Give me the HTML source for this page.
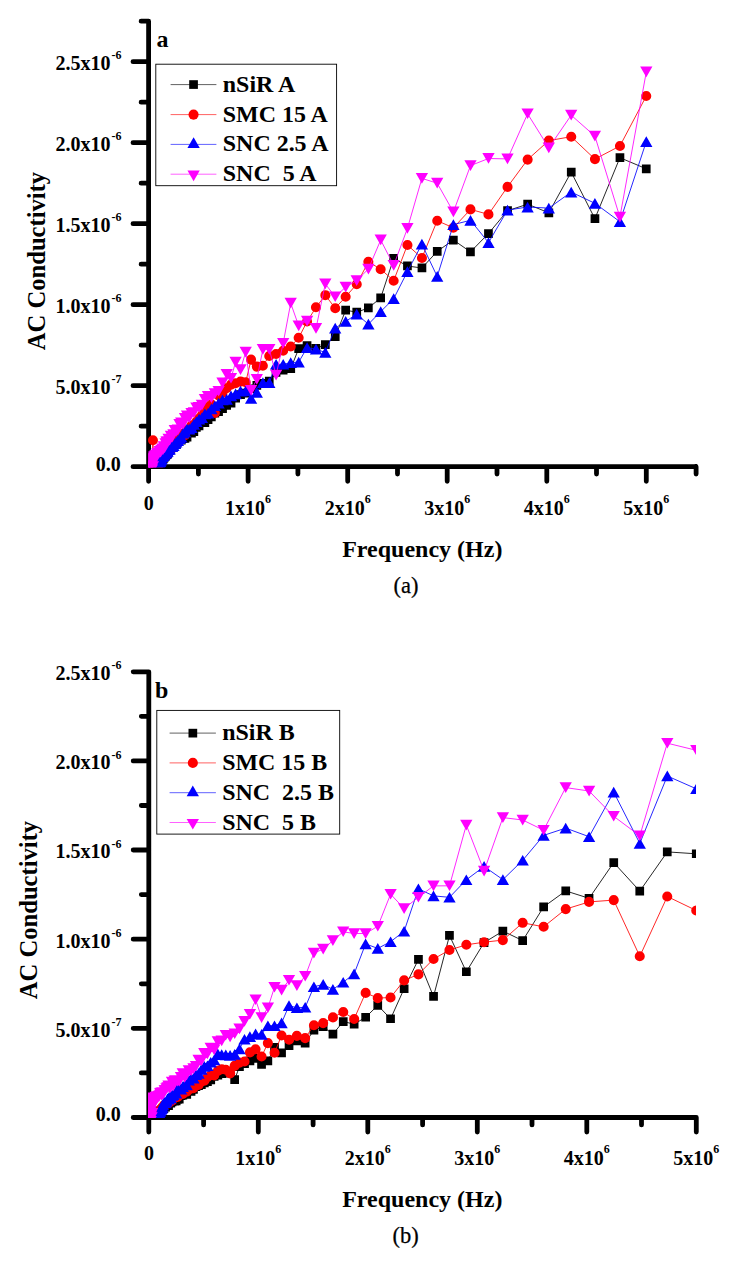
<!DOCTYPE html>
<html><head><meta charset="utf-8"><title>AC Conductivity vs Frequency</title>
<style>
html,body{margin:0;padding:0;background:#fff;}
svg{display:block;}
text{font-family:"Liberation Serif",serif;fill:#000;}
.tk{font-size:20px;font-weight:bold;}
.sp{font-size:12px;font-weight:bold;}
.ti{font-size:24px;font-weight:bold;}
.lg{font-size:23.95px;font-weight:bold;}
.cap{font-size:22.5px;stroke:#000;stroke-width:0.25px;}
.ty{font-size:24.6px;font-weight:bold;}
</style></head><body>
<svg width="738" height="1264" viewBox="0 0 738 1264">
<rect width="738" height="1264" fill="#fff"/>
<defs>
<clipPath id="ca"><rect x="148.1" y="10" width="560" height="457.6"/></clipPath>
<clipPath id="cb"><rect x="148.1" y="660" width="547.9" height="457.9"/></clipPath>
</defs>
<g id="chart-a">
<path d="M148.6 21.5V466.7M148.6 466.7H696M148.6 466.7H133M148.6 426.2H141.1M148.6 385.7H133M148.6 345.2H141.1M148.6 304.7H133M148.6 264.2H141.1M148.6 223.7H133M148.6 183.2H141.1M148.6 142.7H133M148.6 102.2H141.1M148.6 61.7H133M148.6 21.2H141.1M148.6 466.7V481.3M198.4 466.7V474.1M248.1 466.7V481.3M297.9 466.7V474.1M347.7 466.7V481.3M397.5 466.7V474.1M447.2 466.7V481.3M497 466.7V474.1M546.8 466.7V481.3M596.5 466.7V474.1M646.3 466.7V481.3M696.1 466.7V474.1" fill="none" stroke="#000" stroke-width="4.8" stroke-linecap="round" stroke-linejoin="round"/>
<text x="121.6" y="70.1" text-anchor="end" class="tk">2.5x10<tspan class="sp" dx="1.1" dy="-10.8">-6</tspan></text>
<text x="121.6" y="151.1" text-anchor="end" class="tk">2.0x10<tspan class="sp" dx="1.1" dy="-10.8">-6</tspan></text>
<text x="121.6" y="232.1" text-anchor="end" class="tk">1.5x10<tspan class="sp" dx="1.1" dy="-10.8">-6</tspan></text>
<text x="121.6" y="313.1" text-anchor="end" class="tk">1.0x10<tspan class="sp" dx="1.1" dy="-10.8">-6</tspan></text>
<text x="121.6" y="394.1" text-anchor="end" class="tk">5.0x10<tspan class="sp" dx="1.1" dy="-10.8">-7</tspan></text>
<text x="120.7" y="470.5" text-anchor="end" class="tk">0.0</text>
<text x="148.7" y="510" text-anchor="middle" class="tk">0</text>
<text x="248.1" y="514.6" text-anchor="middle" class="tk">1x10<tspan class="sp" dy="-11.4">6</tspan></text>
<text x="347.7" y="514.6" text-anchor="middle" class="tk">2x10<tspan class="sp" dy="-11.4">6</tspan></text>
<text x="447.2" y="514.6" text-anchor="middle" class="tk">3x10<tspan class="sp" dy="-11.4">6</tspan></text>
<text x="546.8" y="514.6" text-anchor="middle" class="tk">4x10<tspan class="sp" dy="-11.4">6</tspan></text>
<text x="646.3" y="514.6" text-anchor="middle" class="tk">5x10<tspan class="sp" dy="-11.4">6</tspan></text>
<text x="422.3" y="557.2" text-anchor="middle" class="ti">Frequency (Hz)</text>
<text transform="translate(44.8 261) rotate(-90)" text-anchor="middle" class="ty">AC Conductivity</text>
<text x="156.6" y="47.4" class="lg">a</text>
<text x="406" y="593" text-anchor="middle" class="cap">(a)</text>
<g clip-path="url(#ca)">
<path d="M646.3 168.8L619.9 157.7L594.9 218.7L571.2 172.1L548.8 212.8L527.6 204.2L507.5 210.7L488.5 233.5L470.5 251.9L453.4 240L437.2 251.4L421.9 268L407.4 266L393.7 258.4L380.7 297.9L368.4 308L356.7 312.2L345.7 310.2L335.2 336.8L325.3 344.6L316 348.5L307.1 345.6L298.7 348.6L290.7 368.8L283.2 370.3L276.1 372.5L269.3 381.2L262.9 383.3L256.8 385.5L251.1 388.8L245.7 393.1L240.5 394.7L235.6 398.2L231 403L226.7 405.4L222.5 408.6L218.6 411.8L214.9 413.2L211.4 416.9L208 419.7L204.9 422.5L201.9 422.8L199.1 425.8L196.4 427.4L193.9 431.7L191.5 433L189.2 432.5L187 437L185 438.4L183.1 438.7L181.2 440.1L179.5 440.3L177.9 441.4L176.3 444.5L174.8 444.4L173.5 446.2L172.1 447.7L170.9 448.3L169.7 450.8L168.6 452L167.5 454.3L166.5 454.7L165.6 456.1L164.7 456.9L163.8 458.2L163 458.8L162.3 459.4L161.5 461.5L160.8 462.3L160.2 462.8L159.6 463.6L159 464.1L158.4 465L157.9 466L157.4 466.7L157 468.4L156.5 468.9L156.1 470.1L155.7 470.5L155.3 471.7L155 472.4L154.6 472.4L154.3 473.2L154 474.3L153.7 474.5L153.4 475.4L153.2 475.6L152.9 475.9L152.7 476.7L152.5 477.3L152.3 477.5L152.1 477.9L151.9 478.4L151.7 479.1L151.6 479.4L151.4 479.5L151.3 479.9L151.1 480.1L151 480.4L150.9 480.9L150.7 481L150.6 481.4L150.5 481.6L150.4 481.8L150.3 482.1L150.2 482.2L150.1 482.5L150.1 482.6L150 482.8L149.9 483L149.8 483.1L149.8 483.4L149.7 483.5L149.7 483.6L149.6 483.8L149.5 483.8L149.5 484L149.4 484.1L149.4 484.2L149.4 484.2L149.3 484.4L149.3 484.4L149.2 484.5L149.2 484.6L149.2 484.7L149.1 484.7L149.1 484.8L149.1 484.9L149.1 484.9L149 485L149 485.1L149 485.1L149 485.1L149 485.2L148.9 485.2L148.9 485.3" fill="none" stroke="#000" stroke-width="0.85"/>
<path d="M641.9 164.5h8.7v8.7h-8.7zM615.6 153.3h8.7v8.7h-8.7zM590.6 214.3h8.7v8.7h-8.7zM566.9 167.8h8.7v8.7h-8.7zM544.5 208.5h8.7v8.7h-8.7zM523.3 199.8h8.7v8.7h-8.7zM503.2 206.3h8.7v8.7h-8.7zM484.1 229.2h8.7v8.7h-8.7zM466.1 247.6h8.7v8.7h-8.7zM449 235.7h8.7v8.7h-8.7zM432.9 247.1h8.7v8.7h-8.7zM417.6 263.6h8.7v8.7h-8.7zM403.1 261.6h8.7v8.7h-8.7zM389.3 254h8.7v8.7h-8.7zM376.3 293.5h8.7v8.7h-8.7zM364 303.6h8.7v8.7h-8.7zM352.4 307.8h8.7v8.7h-8.7zM341.3 305.8h8.7v8.7h-8.7zM330.9 332.4h8.7v8.7h-8.7zM321 340.2h8.7v8.7h-8.7zM311.6 344.1h8.7v8.7h-8.7zM302.7 341.2h8.7v8.7h-8.7zM294.3 344.2h8.7v8.7h-8.7zM286.4 364.4h8.7v8.7h-8.7zM278.8 365.9h8.7v8.7h-8.7zM271.7 368.1h8.7v8.7h-8.7zM264.9 376.8h8.7v8.7h-8.7zM258.5 378.9h8.7v8.7h-8.7zM252.5 381.1h8.7v8.7h-8.7zM246.7 384.4h8.7v8.7h-8.7zM241.3 388.8h8.7v8.7h-8.7zM236.2 390.3h8.7v8.7h-8.7zM231.3 393.9h8.7v8.7h-8.7zM226.7 398.7h8.7v8.7h-8.7zM222.3 401.1h8.7v8.7h-8.7zM218.2 404.3h8.7v8.7h-8.7zM214.2 407.4h8.7v8.7h-8.7zM210.5 408.9h8.7v8.7h-8.7zM207 412.5h8.7v8.7h-8.7zM203.7 415.3h8.7v8.7h-8.7zM200.5 418.2h8.7v8.7h-8.7zM197.6 418.4h8.7v8.7h-8.7zM194.7 421.5h8.7v8.7h-8.7zM192 423h8.7v8.7h-8.7zM189.5 427.4h8.7v8.7h-8.7zM187.1 428.7h8.7v8.7h-8.7zM184.8 428.2h8.7v8.7h-8.7zM182.7 432.7h8.7v8.7h-8.7zM180.6 434h8.7v8.7h-8.7zM178.7 434.4h8.7v8.7h-8.7zM176.9 435.7h8.7v8.7h-8.7zM175.2 435.9h8.7v8.7h-8.7zM173.5 437.1h8.7v8.7h-8.7zM172 440.2h8.7v8.7h-8.7zM170.5 440.1h8.7v8.7h-8.7zM169.1 441.9h8.7v8.7h-8.7zM167.8 443.3h8.7v8.7h-8.7zM166.5 444h8.7v8.7h-8.7zM165.4 446.4h8.7v8.7h-8.7zM164.2 447.7h8.7v8.7h-8.7zM163.2 449.9h8.7v8.7h-8.7zM162.2 450.4h8.7v8.7h-8.7zM161.2 451.8h8.7v8.7h-8.7zM160.3 452.5h8.7v8.7h-8.7zM159.5 453.9h8.7v8.7h-8.7zM158.7 454.5h8.7v8.7h-8.7zM157.9 455.1h8.7v8.7h-8.7zM157.2 457.1h8.7v8.7h-8.7zM156.5 457.9h8.7v8.7h-8.7zM155.8 458.4h8.7v8.7h-8.7zM155.2 459.2h8.7v8.7h-8.7zM154.6 459.7h8.7v8.7h-8.7zM154.1 460.6h8.7v8.7h-8.7zM153.6 461.6h8.7v8.7h-8.7zM153.1 462.3h8.7v8.7h-8.7zM152.6 464h8.7v8.7h-8.7zM152.2 464.5h8.7v8.7h-8.7zM151.7 465.8h8.7v8.7h-8.7zM151.3 466.1h8.7v8.7h-8.7zM151 467.4h8.7v8.7h-8.7zM150.6 468h8.7v8.7h-8.7zM150.3 468h8.7v8.7h-8.7zM150 468.8h8.7v8.7h-8.7zM149.7 469.9h8.7v8.7h-8.7zM149.4 470.2h8.7v8.7h-8.7zM149.1 471.1h8.7v8.7h-8.7zM148.8 471.2h8.7v8.7h-8.7zM148.6 471.5h8.7v8.7h-8.7zM148.4 472.4h8.7v8.7h-8.7zM148.1 472.9h8.7v8.7h-8.7zM147.9 473.2h8.7v8.7h-8.7zM147.7 473.5h8.7v8.7h-8.7zM147.6 474.1h8.7v8.7h-8.7zM147.4 474.7h8.7v8.7h-8.7zM147.2 475h8.7v8.7h-8.7zM147.1 475.1h8.7v8.7h-8.7zM146.9 475.5h8.7v8.7h-8.7zM146.8 475.8h8.7v8.7h-8.7zM146.6 476.1h8.7v8.7h-8.7zM146.5 476.6h8.7v8.7h-8.7zM146.4 476.7h8.7v8.7h-8.7zM146.3 477.1h8.7v8.7h-8.7zM146.2 477.3h8.7v8.7h-8.7zM146.1 477.4h8.7v8.7h-8.7zM146 477.8h8.7v8.7h-8.7zM145.9 477.9h8.7v8.7h-8.7zM145.8 478.2h8.7v8.7h-8.7zM145.7 478.3h8.7v8.7h-8.7zM145.6 478.5h8.7v8.7h-8.7zM145.6 478.6h8.7v8.7h-8.7zM145.5 478.8h8.7v8.7h-8.7zM145.4 479h8.7v8.7h-8.7zM145.4 479.2h8.7v8.7h-8.7zM145.3 479.2h8.7v8.7h-8.7zM145.2 479.4h8.7v8.7h-8.7zM145.2 479.5h8.7v8.7h-8.7zM145.1 479.6h8.7v8.7h-8.7zM145.1 479.8h8.7v8.7h-8.7zM145.1 479.8h8.7v8.7h-8.7zM145 479.9h8.7v8.7h-8.7zM145 480.1h8.7v8.7h-8.7zM144.9 480.1h8.7v8.7h-8.7zM144.9 480.2h8.7v8.7h-8.7zM144.9 480.3h8.7v8.7h-8.7zM144.8 480.3h8.7v8.7h-8.7zM144.8 480.4h8.7v8.7h-8.7zM144.8 480.4h8.7v8.7h-8.7zM144.7 480.5h8.7v8.7h-8.7zM144.7 480.6h8.7v8.7h-8.7zM144.7 480.6h8.7v8.7h-8.7zM144.7 480.7h8.7v8.7h-8.7zM144.6 480.7h8.7v8.7h-8.7zM144.6 480.8h8.7v8.7h-8.7zM144.6 480.9h8.7v8.7h-8.7zM144.6 480.9h8.7v8.7h-8.7zM144.6 480.9h8.7v8.7h-8.7z" fill="#000"/>
<path d="M646.3 96L619.9 146L594.9 159.1L571.2 136.7L548.8 140.6L527.6 159.6L507.5 186.9L488.5 214.4L470.5 209.4L453.4 227.8L437.2 220.7L421.9 258L407.4 245L393.7 280.7L380.7 269.2L368.4 261.8L356.7 284.2L345.7 296.8L335.2 308.2L325.3 295.2L316 307.3L307.1 321.5L298.7 337.8L290.7 346.5L283.2 350.8L276.1 354L269.3 356L262.9 365.7L256.8 366.6L251.1 359.6L245.7 382.3L240.5 381.6L235.6 383.3L231 384.6L226.7 388.1L222.5 392.9L218.6 395.4L214.9 413L211.4 404.3L208 407.1L204.9 412.1L201.9 415.1L199.1 418.5L196.4 421.9L193.9 425.3L191.5 425.6L189.2 429.1L187 430.1L185 435.1L183.1 433.7L181.2 438.5L179.5 437.3L177.9 441.4L176.3 441.5L174.8 443.3L173.5 446.6L172.1 445L170.9 446.7L169.7 451L168.6 450.9L167.5 450.9L166.5 454.6L165.6 455.6L164.7 454.5L163.8 456.5L163 456.9L162.3 458.4L161.5 460.1L160.8 460.2L160.2 462.1L159.6 461.9L159 463.1L158.4 465.1L157.9 465.3L157.4 466.2L157 467.2L156.5 467.9L156.1 468.7L155.7 469.1L155.3 470.6L155 471.5L154.6 472.2L154.3 472.5L154 472.9L153.7 473.4L153.4 474.3L153.2 474.7L152.9 440.3L152.7 475.4L152.5 475.9L152.3 476.5L152.1 477L151.9 477.2L151.7 477.4L151.6 478.1L151.4 478.2L151.3 478.6L151.1 478.7L151 479.1L150.9 479.3L150.7 479.7L150.6 479.7L150.5 480.1L150.4 480.2L150.3 480.5L150.2 480.5L150.1 480.8L150.1 481L150 481.2L149.9 481.2L149.8 481.5L149.8 481.5L149.7 481.7L149.7 481.8L149.6 482L149.5 482.1L149.5 482.2L149.4 482.2L149.4 482.4L149.4 482.4L149.3 482.5L149.3 482.6L149.2 482.7L149.2 482.7L149.2 482.8L149.1 482.9L149.1 482.9L149.1 483L149.1 483L149 483.1L149 483.2L149 483.2L149 483.3L149 483.3L148.9 483.3L148.9 483.3" fill="none" stroke="#f00" stroke-width="0.85"/>
<path d="M641.2 96a5.05 5.05 0 1 0 10.1 0a5.05 5.05 0 1 0 -10.1 0zM614.9 146a5.05 5.05 0 1 0 10.1 0a5.05 5.05 0 1 0 -10.1 0zM589.9 159.1a5.05 5.05 0 1 0 10.1 0a5.05 5.05 0 1 0 -10.1 0zM566.2 136.7a5.05 5.05 0 1 0 10.1 0a5.05 5.05 0 1 0 -10.1 0zM543.8 140.6a5.05 5.05 0 1 0 10.1 0a5.05 5.05 0 1 0 -10.1 0zM522.6 159.6a5.05 5.05 0 1 0 10.1 0a5.05 5.05 0 1 0 -10.1 0zM502.5 186.9a5.05 5.05 0 1 0 10.1 0a5.05 5.05 0 1 0 -10.1 0zM483.4 214.4a5.05 5.05 0 1 0 10.1 0a5.05 5.05 0 1 0 -10.1 0zM465.4 209.4a5.05 5.05 0 1 0 10.1 0a5.05 5.05 0 1 0 -10.1 0zM448.3 227.8a5.05 5.05 0 1 0 10.1 0a5.05 5.05 0 1 0 -10.1 0zM432.2 220.7a5.05 5.05 0 1 0 10.1 0a5.05 5.05 0 1 0 -10.1 0zM416.9 258a5.05 5.05 0 1 0 10.1 0a5.05 5.05 0 1 0 -10.1 0zM402.4 245a5.05 5.05 0 1 0 10.1 0a5.05 5.05 0 1 0 -10.1 0zM388.6 280.7a5.05 5.05 0 1 0 10.1 0a5.05 5.05 0 1 0 -10.1 0zM375.6 269.2a5.05 5.05 0 1 0 10.1 0a5.05 5.05 0 1 0 -10.1 0zM363.3 261.8a5.05 5.05 0 1 0 10.1 0a5.05 5.05 0 1 0 -10.1 0zM351.7 284.2a5.05 5.05 0 1 0 10.1 0a5.05 5.05 0 1 0 -10.1 0zM340.6 296.8a5.05 5.05 0 1 0 10.1 0a5.05 5.05 0 1 0 -10.1 0zM330.2 308.2a5.05 5.05 0 1 0 10.1 0a5.05 5.05 0 1 0 -10.1 0zM320.3 295.2a5.05 5.05 0 1 0 10.1 0a5.05 5.05 0 1 0 -10.1 0zM310.9 307.3a5.05 5.05 0 1 0 10.1 0a5.05 5.05 0 1 0 -10.1 0zM302 321.5a5.05 5.05 0 1 0 10.1 0a5.05 5.05 0 1 0 -10.1 0zM293.6 337.8a5.05 5.05 0 1 0 10.1 0a5.05 5.05 0 1 0 -10.1 0zM285.7 346.5a5.05 5.05 0 1 0 10.1 0a5.05 5.05 0 1 0 -10.1 0zM278.1 350.8a5.05 5.05 0 1 0 10.1 0a5.05 5.05 0 1 0 -10.1 0zM271 354a5.05 5.05 0 1 0 10.1 0a5.05 5.05 0 1 0 -10.1 0zM264.2 356a5.05 5.05 0 1 0 10.1 0a5.05 5.05 0 1 0 -10.1 0zM257.8 365.7a5.05 5.05 0 1 0 10.1 0a5.05 5.05 0 1 0 -10.1 0zM251.8 366.6a5.05 5.05 0 1 0 10.1 0a5.05 5.05 0 1 0 -10.1 0zM246 359.6a5.05 5.05 0 1 0 10.1 0a5.05 5.05 0 1 0 -10.1 0zM240.6 382.3a5.05 5.05 0 1 0 10.1 0a5.05 5.05 0 1 0 -10.1 0zM235.5 381.6a5.05 5.05 0 1 0 10.1 0a5.05 5.05 0 1 0 -10.1 0zM230.6 383.3a5.05 5.05 0 1 0 10.1 0a5.05 5.05 0 1 0 -10.1 0zM226 384.6a5.05 5.05 0 1 0 10.1 0a5.05 5.05 0 1 0 -10.1 0zM221.6 388.1a5.05 5.05 0 1 0 10.1 0a5.05 5.05 0 1 0 -10.1 0zM217.5 392.9a5.05 5.05 0 1 0 10.1 0a5.05 5.05 0 1 0 -10.1 0zM213.5 395.4a5.05 5.05 0 1 0 10.1 0a5.05 5.05 0 1 0 -10.1 0zM209.8 413a5.05 5.05 0 1 0 10.1 0a5.05 5.05 0 1 0 -10.1 0zM206.3 404.3a5.05 5.05 0 1 0 10.1 0a5.05 5.05 0 1 0 -10.1 0zM203 407.1a5.05 5.05 0 1 0 10.1 0a5.05 5.05 0 1 0 -10.1 0zM199.8 412.1a5.05 5.05 0 1 0 10.1 0a5.05 5.05 0 1 0 -10.1 0zM196.9 415.1a5.05 5.05 0 1 0 10.1 0a5.05 5.05 0 1 0 -10.1 0zM194 418.5a5.05 5.05 0 1 0 10.1 0a5.05 5.05 0 1 0 -10.1 0zM191.3 421.9a5.05 5.05 0 1 0 10.1 0a5.05 5.05 0 1 0 -10.1 0zM188.8 425.3a5.05 5.05 0 1 0 10.1 0a5.05 5.05 0 1 0 -10.1 0zM186.4 425.6a5.05 5.05 0 1 0 10.1 0a5.05 5.05 0 1 0 -10.1 0zM184.1 429.1a5.05 5.05 0 1 0 10.1 0a5.05 5.05 0 1 0 -10.1 0zM182 430.1a5.05 5.05 0 1 0 10.1 0a5.05 5.05 0 1 0 -10.1 0zM179.9 435.1a5.05 5.05 0 1 0 10.1 0a5.05 5.05 0 1 0 -10.1 0zM178 433.7a5.05 5.05 0 1 0 10.1 0a5.05 5.05 0 1 0 -10.1 0zM176.2 438.5a5.05 5.05 0 1 0 10.1 0a5.05 5.05 0 1 0 -10.1 0zM174.5 437.3a5.05 5.05 0 1 0 10.1 0a5.05 5.05 0 1 0 -10.1 0zM172.8 441.4a5.05 5.05 0 1 0 10.1 0a5.05 5.05 0 1 0 -10.1 0zM171.3 441.5a5.05 5.05 0 1 0 10.1 0a5.05 5.05 0 1 0 -10.1 0zM169.8 443.3a5.05 5.05 0 1 0 10.1 0a5.05 5.05 0 1 0 -10.1 0zM168.4 446.6a5.05 5.05 0 1 0 10.1 0a5.05 5.05 0 1 0 -10.1 0zM167.1 445a5.05 5.05 0 1 0 10.1 0a5.05 5.05 0 1 0 -10.1 0zM165.8 446.7a5.05 5.05 0 1 0 10.1 0a5.05 5.05 0 1 0 -10.1 0zM164.7 451a5.05 5.05 0 1 0 10.1 0a5.05 5.05 0 1 0 -10.1 0zM163.5 450.9a5.05 5.05 0 1 0 10.1 0a5.05 5.05 0 1 0 -10.1 0zM162.5 450.9a5.05 5.05 0 1 0 10.1 0a5.05 5.05 0 1 0 -10.1 0zM161.5 454.6a5.05 5.05 0 1 0 10.1 0a5.05 5.05 0 1 0 -10.1 0zM160.5 455.6a5.05 5.05 0 1 0 10.1 0a5.05 5.05 0 1 0 -10.1 0zM159.6 454.5a5.05 5.05 0 1 0 10.1 0a5.05 5.05 0 1 0 -10.1 0zM158.8 456.5a5.05 5.05 0 1 0 10.1 0a5.05 5.05 0 1 0 -10.1 0zM158 456.9a5.05 5.05 0 1 0 10.1 0a5.05 5.05 0 1 0 -10.1 0zM157.2 458.4a5.05 5.05 0 1 0 10.1 0a5.05 5.05 0 1 0 -10.1 0zM156.5 460.1a5.05 5.05 0 1 0 10.1 0a5.05 5.05 0 1 0 -10.1 0zM155.8 460.2a5.05 5.05 0 1 0 10.1 0a5.05 5.05 0 1 0 -10.1 0zM155.1 462.1a5.05 5.05 0 1 0 10.1 0a5.05 5.05 0 1 0 -10.1 0zM154.5 461.9a5.05 5.05 0 1 0 10.1 0a5.05 5.05 0 1 0 -10.1 0zM153.9 463.1a5.05 5.05 0 1 0 10.1 0a5.05 5.05 0 1 0 -10.1 0zM153.4 465.1a5.05 5.05 0 1 0 10.1 0a5.05 5.05 0 1 0 -10.1 0zM152.9 465.3a5.05 5.05 0 1 0 10.1 0a5.05 5.05 0 1 0 -10.1 0zM152.4 466.2a5.05 5.05 0 1 0 10.1 0a5.05 5.05 0 1 0 -10.1 0zM151.9 467.2a5.05 5.05 0 1 0 10.1 0a5.05 5.05 0 1 0 -10.1 0zM151.5 467.9a5.05 5.05 0 1 0 10.1 0a5.05 5.05 0 1 0 -10.1 0zM151 468.7a5.05 5.05 0 1 0 10.1 0a5.05 5.05 0 1 0 -10.1 0zM150.6 469.1a5.05 5.05 0 1 0 10.1 0a5.05 5.05 0 1 0 -10.1 0zM150.3 470.6a5.05 5.05 0 1 0 10.1 0a5.05 5.05 0 1 0 -10.1 0zM149.9 471.5a5.05 5.05 0 1 0 10.1 0a5.05 5.05 0 1 0 -10.1 0zM149.6 472.2a5.05 5.05 0 1 0 10.1 0a5.05 5.05 0 1 0 -10.1 0zM149.3 472.5a5.05 5.05 0 1 0 10.1 0a5.05 5.05 0 1 0 -10.1 0zM149 472.9a5.05 5.05 0 1 0 10.1 0a5.05 5.05 0 1 0 -10.1 0zM148.7 473.4a5.05 5.05 0 1 0 10.1 0a5.05 5.05 0 1 0 -10.1 0zM148.4 474.3a5.05 5.05 0 1 0 10.1 0a5.05 5.05 0 1 0 -10.1 0zM148.1 474.7a5.05 5.05 0 1 0 10.1 0a5.05 5.05 0 1 0 -10.1 0zM147.9 440.3a5.05 5.05 0 1 0 10.1 0a5.05 5.05 0 1 0 -10.1 0zM147.7 475.4a5.05 5.05 0 1 0 10.1 0a5.05 5.05 0 1 0 -10.1 0zM147.4 475.9a5.05 5.05 0 1 0 10.1 0a5.05 5.05 0 1 0 -10.1 0zM147.2 476.5a5.05 5.05 0 1 0 10.1 0a5.05 5.05 0 1 0 -10.1 0zM147 477a5.05 5.05 0 1 0 10.1 0a5.05 5.05 0 1 0 -10.1 0zM146.9 477.2a5.05 5.05 0 1 0 10.1 0a5.05 5.05 0 1 0 -10.1 0zM146.7 477.4a5.05 5.05 0 1 0 10.1 0a5.05 5.05 0 1 0 -10.1 0zM146.5 478.1a5.05 5.05 0 1 0 10.1 0a5.05 5.05 0 1 0 -10.1 0zM146.4 478.2a5.05 5.05 0 1 0 10.1 0a5.05 5.05 0 1 0 -10.1 0zM146.2 478.6a5.05 5.05 0 1 0 10.1 0a5.05 5.05 0 1 0 -10.1 0zM146.1 478.7a5.05 5.05 0 1 0 10.1 0a5.05 5.05 0 1 0 -10.1 0zM145.9 479.1a5.05 5.05 0 1 0 10.1 0a5.05 5.05 0 1 0 -10.1 0zM145.8 479.3a5.05 5.05 0 1 0 10.1 0a5.05 5.05 0 1 0 -10.1 0zM145.7 479.7a5.05 5.05 0 1 0 10.1 0a5.05 5.05 0 1 0 -10.1 0zM145.6 479.7a5.05 5.05 0 1 0 10.1 0a5.05 5.05 0 1 0 -10.1 0zM145.5 480.1a5.05 5.05 0 1 0 10.1 0a5.05 5.05 0 1 0 -10.1 0zM145.4 480.2a5.05 5.05 0 1 0 10.1 0a5.05 5.05 0 1 0 -10.1 0zM145.3 480.5a5.05 5.05 0 1 0 10.1 0a5.05 5.05 0 1 0 -10.1 0zM145.2 480.5a5.05 5.05 0 1 0 10.1 0a5.05 5.05 0 1 0 -10.1 0zM145.1 480.8a5.05 5.05 0 1 0 10.1 0a5.05 5.05 0 1 0 -10.1 0zM145 481a5.05 5.05 0 1 0 10.1 0a5.05 5.05 0 1 0 -10.1 0zM144.9 481.2a5.05 5.05 0 1 0 10.1 0a5.05 5.05 0 1 0 -10.1 0zM144.9 481.2a5.05 5.05 0 1 0 10.1 0a5.05 5.05 0 1 0 -10.1 0zM144.8 481.5a5.05 5.05 0 1 0 10.1 0a5.05 5.05 0 1 0 -10.1 0zM144.7 481.5a5.05 5.05 0 1 0 10.1 0a5.05 5.05 0 1 0 -10.1 0zM144.7 481.7a5.05 5.05 0 1 0 10.1 0a5.05 5.05 0 1 0 -10.1 0zM144.6 481.8a5.05 5.05 0 1 0 10.1 0a5.05 5.05 0 1 0 -10.1 0zM144.5 482a5.05 5.05 0 1 0 10.1 0a5.05 5.05 0 1 0 -10.1 0zM144.5 482.1a5.05 5.05 0 1 0 10.1 0a5.05 5.05 0 1 0 -10.1 0zM144.4 482.2a5.05 5.05 0 1 0 10.1 0a5.05 5.05 0 1 0 -10.1 0zM144.4 482.2a5.05 5.05 0 1 0 10.1 0a5.05 5.05 0 1 0 -10.1 0zM144.4 482.4a5.05 5.05 0 1 0 10.1 0a5.05 5.05 0 1 0 -10.1 0zM144.3 482.4a5.05 5.05 0 1 0 10.1 0a5.05 5.05 0 1 0 -10.1 0zM144.3 482.5a5.05 5.05 0 1 0 10.1 0a5.05 5.05 0 1 0 -10.1 0zM144.2 482.6a5.05 5.05 0 1 0 10.1 0a5.05 5.05 0 1 0 -10.1 0zM144.2 482.7a5.05 5.05 0 1 0 10.1 0a5.05 5.05 0 1 0 -10.1 0zM144.2 482.7a5.05 5.05 0 1 0 10.1 0a5.05 5.05 0 1 0 -10.1 0zM144.1 482.8a5.05 5.05 0 1 0 10.1 0a5.05 5.05 0 1 0 -10.1 0zM144.1 482.9a5.05 5.05 0 1 0 10.1 0a5.05 5.05 0 1 0 -10.1 0zM144.1 482.9a5.05 5.05 0 1 0 10.1 0a5.05 5.05 0 1 0 -10.1 0zM144 483a5.05 5.05 0 1 0 10.1 0a5.05 5.05 0 1 0 -10.1 0zM144 483a5.05 5.05 0 1 0 10.1 0a5.05 5.05 0 1 0 -10.1 0zM144 483.1a5.05 5.05 0 1 0 10.1 0a5.05 5.05 0 1 0 -10.1 0zM144 483.2a5.05 5.05 0 1 0 10.1 0a5.05 5.05 0 1 0 -10.1 0zM143.9 483.2a5.05 5.05 0 1 0 10.1 0a5.05 5.05 0 1 0 -10.1 0zM143.9 483.3a5.05 5.05 0 1 0 10.1 0a5.05 5.05 0 1 0 -10.1 0zM143.9 483.3a5.05 5.05 0 1 0 10.1 0a5.05 5.05 0 1 0 -10.1 0zM143.9 483.3a5.05 5.05 0 1 0 10.1 0a5.05 5.05 0 1 0 -10.1 0zM143.9 483.3a5.05 5.05 0 1 0 10.1 0a5.05 5.05 0 1 0 -10.1 0z" fill="#f00"/>
<path d="M646.3 141.5L619.9 221.7L594.9 203.3L571.2 192.1L548.8 208.1L527.6 207L507.5 210.1L488.5 242.6L470.5 220.3L453.4 224.6L437.2 276.5L421.9 244.2L407.4 271.6L393.7 298.7L380.7 311.6L368.4 324.2L356.7 314.2L345.7 321.4L335.2 328.1L325.3 352.5L316 349.2L307.1 347.6L298.7 362.1L290.7 362.7L283.2 364.3L276.1 364.3L269.3 382.7L262.9 382.7L256.8 392.4L251.1 398.5L245.7 390.9L240.5 391.1L235.6 393.8L231 395.9L226.7 399.3L222.5 400L218.6 403.1L214.9 405.8L211.4 408.8L208 413.2L204.9 414L201.9 417.8L199.1 419.2L196.4 421.7L193.9 424.3L191.5 427.7L189.2 429L187 429.1L185 431.8L183.1 433.2L181.2 437.2L179.5 438.8L177.9 440.5L176.3 442.3L174.8 443.6L173.5 445.7L172.1 446.6L170.9 446.3L169.7 449.3L168.6 449.6L167.5 451.4L166.5 452.1L165.6 452.9L164.7 453.8L163.8 454.9L163 455.6L162.3 456.6L161.5 459L160.8 460.1L160.2 461.4L159.6 462L159 462.7L158.4 463.9L157.9 464L157.4 465.5L157 466.2L156.5 466.8L156.1 467.6L155.7 468.7L155.3 469.2L155 470.1L154.6 471.1L154.3 471.8L154 472.4L153.7 473.4L153.4 474L153.2 474.7L152.9 475.3L152.7 476L152.5 476.5L152.3 477.3L152.1 477.9L151.9 478.2L151.7 478.9L151.6 479.4L151.4 479.6L151.3 480L151.1 480.7L151 481.1L150.9 481.4L150.7 481.6L150.6 482L150.5 482.4L150.4 482.7L150.3 483L150.2 483.1L150.1 483.5L150.1 483.7L150 484L149.9 484.1L149.8 484.4L149.8 484.6L149.7 484.8L149.7 484.9L149.6 485.1L149.5 485.2L149.5 485.4L149.4 485.5L149.4 485.7L149.4 485.7L149.3 485.9L149.3 486L149.2 486.1L149.2 486.2L149.2 486.3L149.1 486.4L149.1 486.5L149.1 486.6L149.1 486.6L149 486.7L149 486.8L149 486.8L149 486.9L149 486.9L148.9 487L148.9 487" fill="none" stroke="#00f" stroke-width="0.85"/>
<path d="M646.3 136.2l6.15 10.7h-12.3zM619.9 216.3l6.15 10.7h-12.3zM594.9 198l6.15 10.7h-12.3zM571.2 186.8l6.15 10.7h-12.3zM548.8 202.8l6.15 10.7h-12.3zM527.6 201.7l6.15 10.7h-12.3zM507.5 204.8l6.15 10.7h-12.3zM488.5 237.2l6.15 10.7h-12.3zM470.5 215l6.15 10.7h-12.3zM453.4 219.2l6.15 10.7h-12.3zM437.2 271.1l6.15 10.7h-12.3zM421.9 238.8l6.15 10.7h-12.3zM407.4 266.2l6.15 10.7h-12.3zM393.7 293.3l6.15 10.7h-12.3zM380.7 306.2l6.15 10.7h-12.3zM368.4 318.8l6.15 10.7h-12.3zM356.7 308.8l6.15 10.7h-12.3zM345.7 316l6.15 10.7h-12.3zM335.2 322.8l6.15 10.7h-12.3zM325.3 347.1l6.15 10.7h-12.3zM316 343.8l6.15 10.7h-12.3zM307.1 342.2l6.15 10.7h-12.3zM298.7 356.8l6.15 10.7h-12.3zM290.7 357.3l6.15 10.7h-12.3zM283.2 358.9l6.15 10.7h-12.3zM276.1 358.9l6.15 10.7h-12.3zM269.3 377.3l6.15 10.7h-12.3zM262.9 377.3l6.15 10.7h-12.3zM256.8 387l6.15 10.7h-12.3zM251.1 393.1l6.15 10.7h-12.3zM245.7 385.5l6.15 10.7h-12.3zM240.5 385.8l6.15 10.7h-12.3zM235.6 388.5l6.15 10.7h-12.3zM231 390.6l6.15 10.7h-12.3zM226.7 394l6.15 10.7h-12.3zM222.5 394.6l6.15 10.7h-12.3zM218.6 397.7l6.15 10.7h-12.3zM214.9 400.4l6.15 10.7h-12.3zM211.4 403.5l6.15 10.7h-12.3zM208 407.9l6.15 10.7h-12.3zM204.9 408.6l6.15 10.7h-12.3zM201.9 412.4l6.15 10.7h-12.3zM199.1 413.8l6.15 10.7h-12.3zM196.4 416.4l6.15 10.7h-12.3zM193.9 419l6.15 10.7h-12.3zM191.5 422.3l6.15 10.7h-12.3zM189.2 423.7l6.15 10.7h-12.3zM187 423.8l6.15 10.7h-12.3zM185 426.5l6.15 10.7h-12.3zM183.1 427.8l6.15 10.7h-12.3zM181.2 431.8l6.15 10.7h-12.3zM179.5 433.4l6.15 10.7h-12.3zM177.9 435.2l6.15 10.7h-12.3zM176.3 436.9l6.15 10.7h-12.3zM174.8 438.2l6.15 10.7h-12.3zM173.5 440.4l6.15 10.7h-12.3zM172.1 441.2l6.15 10.7h-12.3zM170.9 441l6.15 10.7h-12.3zM169.7 443.9l6.15 10.7h-12.3zM168.6 444.2l6.15 10.7h-12.3zM167.5 446.1l6.15 10.7h-12.3zM166.5 446.8l6.15 10.7h-12.3zM165.6 447.6l6.15 10.7h-12.3zM164.7 448.5l6.15 10.7h-12.3zM163.8 449.6l6.15 10.7h-12.3zM163 450.3l6.15 10.7h-12.3zM162.3 451.2l6.15 10.7h-12.3zM161.5 453.6l6.15 10.7h-12.3zM160.8 454.7l6.15 10.7h-12.3zM160.2 456.1l6.15 10.7h-12.3zM159.6 456.6l6.15 10.7h-12.3zM159 457.4l6.15 10.7h-12.3zM158.4 458.6l6.15 10.7h-12.3zM157.9 458.7l6.15 10.7h-12.3zM157.4 460.2l6.15 10.7h-12.3zM157 460.8l6.15 10.7h-12.3zM156.5 461.4l6.15 10.7h-12.3zM156.1 462.3l6.15 10.7h-12.3zM155.7 463.3l6.15 10.7h-12.3zM155.3 463.8l6.15 10.7h-12.3zM155 464.7l6.15 10.7h-12.3zM154.6 465.7l6.15 10.7h-12.3zM154.3 466.4l6.15 10.7h-12.3zM154 467l6.15 10.7h-12.3zM153.7 468.1l6.15 10.7h-12.3zM153.4 468.6l6.15 10.7h-12.3zM153.2 469.3l6.15 10.7h-12.3zM152.9 470l6.15 10.7h-12.3zM152.7 470.7l6.15 10.7h-12.3zM152.5 471.1l6.15 10.7h-12.3zM152.3 471.9l6.15 10.7h-12.3zM152.1 472.6l6.15 10.7h-12.3zM151.9 472.9l6.15 10.7h-12.3zM151.7 473.5l6.15 10.7h-12.3zM151.6 474.1l6.15 10.7h-12.3zM151.4 474.2l6.15 10.7h-12.3zM151.3 474.7l6.15 10.7h-12.3zM151.1 475.3l6.15 10.7h-12.3zM151 475.7l6.15 10.7h-12.3zM150.9 476l6.15 10.7h-12.3zM150.7 476.3l6.15 10.7h-12.3zM150.6 476.7l6.15 10.7h-12.3zM150.5 477.1l6.15 10.7h-12.3zM150.4 477.4l6.15 10.7h-12.3zM150.3 477.7l6.15 10.7h-12.3zM150.2 477.8l6.15 10.7h-12.3zM150.1 478.2l6.15 10.7h-12.3zM150.1 478.3l6.15 10.7h-12.3zM150 478.6l6.15 10.7h-12.3zM149.9 478.7l6.15 10.7h-12.3zM149.8 479.1l6.15 10.7h-12.3zM149.8 479.2l6.15 10.7h-12.3zM149.7 479.4l6.15 10.7h-12.3zM149.7 479.5l6.15 10.7h-12.3zM149.6 479.7l6.15 10.7h-12.3zM149.5 479.9l6.15 10.7h-12.3zM149.5 480l6.15 10.7h-12.3zM149.4 480.1l6.15 10.7h-12.3zM149.4 480.3l6.15 10.7h-12.3zM149.4 480.4l6.15 10.7h-12.3zM149.3 480.5l6.15 10.7h-12.3zM149.3 480.6l6.15 10.7h-12.3zM149.2 480.8l6.15 10.7h-12.3zM149.2 480.8l6.15 10.7h-12.3zM149.2 480.9l6.15 10.7h-12.3zM149.1 481l6.15 10.7h-12.3zM149.1 481.1l6.15 10.7h-12.3zM149.1 481.2l6.15 10.7h-12.3zM149.1 481.3l6.15 10.7h-12.3zM149 481.3l6.15 10.7h-12.3zM149 481.4l6.15 10.7h-12.3zM149 481.5l6.15 10.7h-12.3zM149 481.5l6.15 10.7h-12.3zM149 481.6l6.15 10.7h-12.3zM148.9 481.7l6.15 10.7h-12.3zM148.9 481.7l6.15 10.7h-12.3z" fill="#00f"/>
<path d="M646.3 71.9L619.9 217.2L594.9 136.1L571.2 115.2L548.8 147.8L527.6 113.8L507.5 158.9L488.5 158.5L470.5 165.6L453.4 212L437.2 183.2L421.9 178.4L407.4 228.5L393.7 265.3L380.7 240L368.4 269L356.7 280.5L345.7 287.1L335.2 296.7L325.3 283.9L316 328.4L307.1 321.1L298.7 325.9L290.7 303.1L283.2 343.2L276.1 375L269.3 349.4L262.9 349.4L256.8 379.3L251.1 390.3L245.7 352L240.5 369.6L235.6 362L231 378.2L226.7 374.2L222.5 382.9L218.6 391.2L214.9 393.5L211.4 397.7L208 396.5L204.9 399.4L201.9 405.1L199.1 407.4L196.4 407.9L193.9 412.6L191.5 413.3L189.2 417.8L187 415.8L185 418.3L183.1 424.2L181.2 422.8L179.5 424.5L177.9 429.9L176.3 431.1L174.8 430.3L173.5 434.6L172.1 437.1L170.9 436L169.7 440.1L168.6 439L167.5 441.5L166.5 441.8L165.6 443.6L164.7 447.8L163.8 446.7L163 449.7L162.3 448.8L161.5 450.3L160.8 451.9L160.2 452.1L159.6 451.4L159 453.2L158.4 453.8L157.9 453.2L157.4 453.5L157 455.6L156.5 455.2L156.1 455L155.7 455.9L155.3 455.8L155 457.1L154.6 456.9L154.3 456.7L154 459L153.7 457.7L153.4 459.5L153.2 459.1L152.9 466.6L152.7 463.8L152.5 463.6L152.3 459.6L152.1 461.3L151.9 469.8L151.7 460.1L151.6 465.5L151.4 466.9L151.3 464L151.1 465.5L151 462.2L150.9 461.1L150.7 464.5L150.6 463.5L150.5 462.6L150.4 465.9L150.3 469.8L150.2 462.1L150.1 460.8L150.1 461.9L150 462.4L149.9 466.1L149.8 462.8L149.8 463.6L149.7 466.1L149.7 467.9L149.6 468.8L149.5 463.8L149.5 465.6L149.4 463.1L149.4 466.3L149.4 469.8L149.3 463.4L149.3 460.8L149.2 467.2L149.2 462.5L149.2 465.6L149.1 468.2L149.1 463.7L149.1 461.2L149.1 461.3L149 461.4L149 462.2L149 466.8L149 469.8L149 465.8L148.9 464.2L148.9 464.9" fill="none" stroke="#f0f" stroke-width="0.85"/>
<path d="M646.3 77.2l6.15 -10.7h-12.3zM619.9 222.5l6.15 -10.7h-12.3zM594.9 141.4l6.15 -10.7h-12.3zM571.2 120.5l6.15 -10.7h-12.3zM548.8 153.2l6.15 -10.7h-12.3zM527.6 119.1l6.15 -10.7h-12.3zM507.5 164.2l6.15 -10.7h-12.3zM488.5 163.8l6.15 -10.7h-12.3zM470.5 170.9l6.15 -10.7h-12.3zM453.4 217.3l6.15 -10.7h-12.3zM437.2 188.5l6.15 -10.7h-12.3zM421.9 183.8l6.15 -10.7h-12.3zM407.4 233.8l6.15 -10.7h-12.3zM393.7 270.7l6.15 -10.7h-12.3zM380.7 245.3l6.15 -10.7h-12.3zM368.4 274.4l6.15 -10.7h-12.3zM356.7 285.9l6.15 -10.7h-12.3zM345.7 292.5l6.15 -10.7h-12.3zM335.2 302.1l6.15 -10.7h-12.3zM325.3 289.2l6.15 -10.7h-12.3zM316 333.8l6.15 -10.7h-12.3zM307.1 326.5l6.15 -10.7h-12.3zM298.7 331.2l6.15 -10.7h-12.3zM290.7 308.5l6.15 -10.7h-12.3zM283.2 348.6l6.15 -10.7h-12.3zM276.1 380.4l6.15 -10.7h-12.3zM269.3 354.8l6.15 -10.7h-12.3zM262.9 354.8l6.15 -10.7h-12.3zM256.8 384.7l6.15 -10.7h-12.3zM251.1 395.7l6.15 -10.7h-12.3zM245.7 357.4l6.15 -10.7h-12.3zM240.5 375l6.15 -10.7h-12.3zM235.6 367.4l6.15 -10.7h-12.3zM231 383.6l6.15 -10.7h-12.3zM226.7 379.6l6.15 -10.7h-12.3zM222.5 388.2l6.15 -10.7h-12.3zM218.6 396.6l6.15 -10.7h-12.3zM214.9 398.9l6.15 -10.7h-12.3zM211.4 403l6.15 -10.7h-12.3zM208 401.8l6.15 -10.7h-12.3zM204.9 404.7l6.15 -10.7h-12.3zM201.9 410.4l6.15 -10.7h-12.3zM199.1 412.7l6.15 -10.7h-12.3zM196.4 413.2l6.15 -10.7h-12.3zM193.9 418l6.15 -10.7h-12.3zM191.5 418.6l6.15 -10.7h-12.3zM189.2 423.1l6.15 -10.7h-12.3zM187 421.2l6.15 -10.7h-12.3zM185 423.7l6.15 -10.7h-12.3zM183.1 429.5l6.15 -10.7h-12.3zM181.2 428.1l6.15 -10.7h-12.3zM179.5 429.8l6.15 -10.7h-12.3zM177.9 435.3l6.15 -10.7h-12.3zM176.3 436.4l6.15 -10.7h-12.3zM174.8 435.6l6.15 -10.7h-12.3zM173.5 440l6.15 -10.7h-12.3zM172.1 442.5l6.15 -10.7h-12.3zM170.9 441.4l6.15 -10.7h-12.3zM169.7 445.5l6.15 -10.7h-12.3zM168.6 444.4l6.15 -10.7h-12.3zM167.5 446.9l6.15 -10.7h-12.3zM166.5 447.1l6.15 -10.7h-12.3zM165.6 448.9l6.15 -10.7h-12.3zM164.7 453.1l6.15 -10.7h-12.3zM163.8 452l6.15 -10.7h-12.3zM163 455.1l6.15 -10.7h-12.3zM162.3 454.2l6.15 -10.7h-12.3zM161.5 455.6l6.15 -10.7h-12.3zM160.8 457.2l6.15 -10.7h-12.3zM160.2 457.5l6.15 -10.7h-12.3zM159.6 456.7l6.15 -10.7h-12.3zM159 458.5l6.15 -10.7h-12.3zM158.4 459.1l6.15 -10.7h-12.3zM157.9 458.6l6.15 -10.7h-12.3zM157.4 458.9l6.15 -10.7h-12.3zM157 460.9l6.15 -10.7h-12.3zM156.5 460.6l6.15 -10.7h-12.3zM156.1 460.4l6.15 -10.7h-12.3zM155.7 461.2l6.15 -10.7h-12.3zM155.3 461.2l6.15 -10.7h-12.3zM155 462.4l6.15 -10.7h-12.3zM154.6 462.3l6.15 -10.7h-12.3zM154.3 462l6.15 -10.7h-12.3zM154 464.4l6.15 -10.7h-12.3zM153.7 463.1l6.15 -10.7h-12.3zM153.4 464.8l6.15 -10.7h-12.3zM153.2 464.5l6.15 -10.7h-12.3zM152.9 471.9l6.15 -10.7h-12.3zM152.7 469.1l6.15 -10.7h-12.3zM152.5 468.9l6.15 -10.7h-12.3zM152.3 464.9l6.15 -10.7h-12.3zM152.1 466.6l6.15 -10.7h-12.3zM151.9 475.1l6.15 -10.7h-12.3zM151.7 465.4l6.15 -10.7h-12.3zM151.6 470.9l6.15 -10.7h-12.3zM151.4 472.3l6.15 -10.7h-12.3zM151.3 469.3l6.15 -10.7h-12.3zM151.1 470.8l6.15 -10.7h-12.3zM151 467.6l6.15 -10.7h-12.3zM150.9 466.5l6.15 -10.7h-12.3zM150.7 469.8l6.15 -10.7h-12.3zM150.6 468.8l6.15 -10.7h-12.3zM150.5 467.9l6.15 -10.7h-12.3zM150.4 471.3l6.15 -10.7h-12.3zM150.3 475.1l6.15 -10.7h-12.3zM150.2 467.4l6.15 -10.7h-12.3zM150.1 466.2l6.15 -10.7h-12.3zM150.1 467.2l6.15 -10.7h-12.3zM150 467.8l6.15 -10.7h-12.3zM149.9 471.4l6.15 -10.7h-12.3zM149.8 468.1l6.15 -10.7h-12.3zM149.8 469l6.15 -10.7h-12.3zM149.7 471.4l6.15 -10.7h-12.3zM149.7 473.2l6.15 -10.7h-12.3zM149.6 474.1l6.15 -10.7h-12.3zM149.5 469.1l6.15 -10.7h-12.3zM149.5 471l6.15 -10.7h-12.3zM149.4 468.4l6.15 -10.7h-12.3zM149.4 471.7l6.15 -10.7h-12.3zM149.4 475.1l6.15 -10.7h-12.3zM149.3 468.7l6.15 -10.7h-12.3zM149.3 466.1l6.15 -10.7h-12.3zM149.2 472.5l6.15 -10.7h-12.3zM149.2 467.8l6.15 -10.7h-12.3zM149.2 471l6.15 -10.7h-12.3zM149.1 473.5l6.15 -10.7h-12.3zM149.1 469.1l6.15 -10.7h-12.3zM149.1 466.5l6.15 -10.7h-12.3zM149.1 466.7l6.15 -10.7h-12.3zM149 466.8l6.15 -10.7h-12.3zM149 467.6l6.15 -10.7h-12.3zM149 472.2l6.15 -10.7h-12.3zM149 475.1l6.15 -10.7h-12.3zM149 471.1l6.15 -10.7h-12.3zM148.9 469.5l6.15 -10.7h-12.3zM148.9 470.2l6.15 -10.7h-12.3z" fill="#f0f"/>
</g>
<rect x="155.8" y="64.2" width="180.8" height="121.5" fill="#fff" stroke="#000" stroke-width="0.9"/>
<path d="M170.6 84.6H216.4" stroke="#000" stroke-width="1" stroke-opacity="0.62" fill="none"/>
<path d="M189.2 80.2h8.7v8.7h-8.7z" fill="#000"/>
<text x="222.8" y="91.6" class="lg" xml:space="preserve">nSiR A</text>
<path d="M170.6 114.6H216.4" stroke="#f00" stroke-width="1" stroke-opacity="0.62" fill="none"/>
<path d="M188.5 114.6a5.05 5.05 0 1 0 10.1 0a5.05 5.05 0 1 0 -10.1 0z" fill="#f00"/>
<text x="222.8" y="121.6" class="lg" xml:space="preserve">SMC 15 A</text>
<path d="M170.6 144.4H216.4" stroke="#00f" stroke-width="1" stroke-opacity="0.62" fill="none"/>
<path d="M193.6 137.3l6.15 10.7h-12.3z" fill="#00f"/>
<text x="222.8" y="151.4" class="lg" xml:space="preserve">SNC 2.5 A</text>
<path d="M170.6 174.2H216.4" stroke="#f0f" stroke-width="1" stroke-opacity="0.62" fill="none"/>
<path d="M193.6 181.3l6.15 -10.7h-12.3z" fill="#f0f"/>
<text x="222.8" y="181.2" class="lg" xml:space="preserve">SNC  5 A</text>
</g>
<g id="chart-b">
<path d="M148.8 672V1117.5M148.8 1117.5H696.3M148.8 1117.5H133.2M148.8 1072.9H141.3M148.8 1028.3H133.2M148.8 983.8H141.3M148.8 939.2H133.2M148.8 894.6H141.3M148.8 850H133.2M148.8 805.5H141.3M148.8 760.9H133.2M148.8 716.3H141.3M148.8 671.8H133.2M148.8 1117.5V1132.1M203.6 1117.5V1124.9M258.3 1117.5V1132.1M313.1 1117.5V1124.9M367.8 1117.5V1132.1M422.6 1117.5V1124.9M477.3 1117.5V1132.1M532 1117.5V1124.9M586.8 1117.5V1132.1M641.5 1117.5V1124.9M696.3 1117.5V1132.1" fill="none" stroke="#000" stroke-width="4.8" stroke-linecap="round" stroke-linejoin="round"/>
<text x="121.6" y="680.1" text-anchor="end" class="tk">2.5x10<tspan class="sp" dx="1.1" dy="-10.8">-6</tspan></text>
<text x="121.6" y="769.3" text-anchor="end" class="tk">2.0x10<tspan class="sp" dx="1.1" dy="-10.8">-6</tspan></text>
<text x="121.6" y="858.4" text-anchor="end" class="tk">1.5x10<tspan class="sp" dx="1.1" dy="-10.8">-6</tspan></text>
<text x="121.6" y="947.6" text-anchor="end" class="tk">1.0x10<tspan class="sp" dx="1.1" dy="-10.8">-6</tspan></text>
<text x="121.6" y="1036.8" text-anchor="end" class="tk">5.0x10<tspan class="sp" dx="1.1" dy="-10.8">-7</tspan></text>
<text x="120.7" y="1121.3" text-anchor="end" class="tk">0.0</text>
<text x="148.9" y="1160" text-anchor="middle" class="tk">0</text>
<text x="258.3" y="1164.6" text-anchor="middle" class="tk">1x10<tspan class="sp" dy="-11.4">6</tspan></text>
<text x="367.8" y="1164.6" text-anchor="middle" class="tk">2x10<tspan class="sp" dy="-11.4">6</tspan></text>
<text x="477.3" y="1164.6" text-anchor="middle" class="tk">3x10<tspan class="sp" dy="-11.4">6</tspan></text>
<text x="586.8" y="1164.6" text-anchor="middle" class="tk">4x10<tspan class="sp" dy="-11.4">6</tspan></text>
<text x="696.3" y="1164.6" text-anchor="middle" class="tk">5x10<tspan class="sp" dy="-11.4">6</tspan></text>
<text x="422.3" y="1207.2" text-anchor="middle" class="ti">Frequency (Hz)</text>
<text transform="translate(37.3 910) rotate(-90)" text-anchor="middle" class="ty">AC Conductivity</text>
<text x="155" y="698.2" class="lg">b</text>
<text x="405.7" y="1243" text-anchor="middle" class="cap">(b)</text>
<g clip-path="url(#cb)">
<path d="M696.3 853.8L667.3 851.9L639.8 891.1L613.7 862.6L589.1 898.3L565.7 890.9L543.6 906.9L522.7 940.6L502.9 931.1L484.1 942.6L466.3 971.8L449.5 935.5L433.5 996.5L418.4 959.5L404.1 988.7L390.6 1018.8L377.8 1005.4L365.6 1017.3L354.1 1024.1L343.2 1021.6L332.9 1034.1L323.2 1026.8L313.9 1030.1L305.2 1043.1L296.9 1040.9L289 1045.7L281.6 1052.8L274.5 1047.4L267.9 1060.9L261.6 1064.3L255.6 1058.3L249.9 1060.9L244.5 1063.7L239.5 1066.5L234.7 1079.5L230.1 1071.2L225.8 1073.1L221.7 1073.5L217.8 1075.2L214.2 1076.4L210.7 1079.9L207.4 1081.7L204.3 1082.8L201.4 1084.7L198.6 1085.7L196 1086.7L193.5 1089.3L191.1 1091.4L188.8 1091.2L186.7 1094.4L184.7 1094L182.8 1095.1L181 1095.6L179.3 1099.3L177.7 1099.5L176.1 1100.8L174.7 1101L173.3 1100.3L172 1102L170.8 1103.2L169.6 1103.1L168.5 1105.7L167.5 1105.1L166.5 1105.4L165.5 1107.2L164.7 1106.6L163.8 1108.8L163 1108.7L162.3 1109.5L161.6 1109.8L160.9 1110.6L160.2 1110.8L159.6 1111.1L159.1 1112.6L158.5 1112.4L158 1113.4L157.5 1113.3L157 1114.4L156.6 1115L156.2 1115.6L155.8 1116.3L155.4 1116.8L155.1 1117.5L154.7 1117.7L154.4 1118.5L154.1 1119.2L153.8 1119.3L153.6 1120.2L153.3 1120.6L153.1 1120.8L152.9 1121.2L152.6 1121.7L152.4 1122.1L152.2 1122.8L152.1 1123L151.9 1123.2L151.7 1123.6L151.6 1124.1L151.4 1124.5L151.3 1124.7L151.2 1125L151 1125.2L150.9 1125.5L150.8 1125.7L150.7 1126L150.6 1126.2L150.5 1126.4L150.4 1126.5L150.3 1126.7L150.2 1126.9L150.2 1127.1L150.1 1127.2L150 1127.4L150 1127.5L149.9 1127.6L149.8 1127.7L149.8 1127.9L149.7 1128L149.7 1128.1L149.6 1128.2L149.6 1128.3L149.5 1128.4L149.5 1128.5L149.5 1128.6L149.4 1128.7L149.4 1128.7L149.4 1128.8L149.3 1128.9L149.3 1128.9L149.3 1129L149.3 1129L149.2 1129.1L149.2 1129.1L149.2 1129.1L149.2 1129.2L149.1 1129.3" fill="none" stroke="#000" stroke-width="0.85"/>
<path d="M691.9 849.4h8.7v8.7h-8.7zM662.9 847.5h8.7v8.7h-8.7zM635.4 886.8h8.7v8.7h-8.7zM609.4 858.2h8.7v8.7h-8.7zM584.7 893.9h8.7v8.7h-8.7zM561.4 886.5h8.7v8.7h-8.7zM539.3 902.5h8.7v8.7h-8.7zM518.3 936.2h8.7v8.7h-8.7zM498.5 926.8h8.7v8.7h-8.7zM479.7 938.2h8.7v8.7h-8.7zM462 967.4h8.7v8.7h-8.7zM445.1 931.1h8.7v8.7h-8.7zM429.2 992.1h8.7v8.7h-8.7zM414.1 955.1h8.7v8.7h-8.7zM399.8 984.4h8.7v8.7h-8.7zM386.2 1014.4h8.7v8.7h-8.7zM373.4 1001h8.7v8.7h-8.7zM361.3 1012.9h8.7v8.7h-8.7zM349.8 1019.7h8.7v8.7h-8.7zM338.9 1017.2h8.7v8.7h-8.7zM328.6 1029.8h8.7v8.7h-8.7zM318.8 1022.4h8.7v8.7h-8.7zM309.6 1025.8h8.7v8.7h-8.7zM300.8 1038.8h8.7v8.7h-8.7zM292.5 1036.6h8.7v8.7h-8.7zM284.7 1041.4h8.7v8.7h-8.7zM277.2 1048.5h8.7v8.7h-8.7zM270.2 1043.1h8.7v8.7h-8.7zM263.5 1056.6h8.7v8.7h-8.7zM257.2 1060h8.7v8.7h-8.7zM251.2 1054h8.7v8.7h-8.7zM245.6 1056.6h8.7v8.7h-8.7zM240.2 1059.4h8.7v8.7h-8.7zM235.1 1062.2h8.7v8.7h-8.7zM230.3 1075.2h8.7v8.7h-8.7zM225.8 1066.9h8.7v8.7h-8.7zM221.4 1068.7h8.7v8.7h-8.7zM217.4 1069.2h8.7v8.7h-8.7zM213.5 1070.8h8.7v8.7h-8.7zM209.8 1072h8.7v8.7h-8.7zM206.4 1075.5h8.7v8.7h-8.7zM203.1 1077.3h8.7v8.7h-8.7zM200 1078.5h8.7v8.7h-8.7zM197 1080.3h8.7v8.7h-8.7zM194.2 1081.3h8.7v8.7h-8.7zM191.6 1082.4h8.7v8.7h-8.7zM189.1 1085h8.7v8.7h-8.7zM186.7 1087h8.7v8.7h-8.7zM184.5 1086.9h8.7v8.7h-8.7zM182.4 1090.1h8.7v8.7h-8.7zM180.4 1089.7h8.7v8.7h-8.7zM178.5 1090.8h8.7v8.7h-8.7zM176.7 1091.3h8.7v8.7h-8.7zM174.9 1094.9h8.7v8.7h-8.7zM173.3 1095.1h8.7v8.7h-8.7zM171.8 1096.5h8.7v8.7h-8.7zM170.3 1096.7h8.7v8.7h-8.7zM169 1096h8.7v8.7h-8.7zM167.7 1097.6h8.7v8.7h-8.7zM166.4 1098.9h8.7v8.7h-8.7zM165.3 1098.7h8.7v8.7h-8.7zM164.2 1101.4h8.7v8.7h-8.7zM163.1 1100.8h8.7v8.7h-8.7zM162.1 1101h8.7v8.7h-8.7zM161.2 1102.9h8.7v8.7h-8.7zM160.3 1102.3h8.7v8.7h-8.7zM159.5 1104.4h8.7v8.7h-8.7zM158.7 1104.3h8.7v8.7h-8.7zM157.9 1105.1h8.7v8.7h-8.7zM157.2 1105.4h8.7v8.7h-8.7zM156.5 1106.2h8.7v8.7h-8.7zM155.9 1106.4h8.7v8.7h-8.7zM155.3 1106.8h8.7v8.7h-8.7zM154.7 1108.3h8.7v8.7h-8.7zM154.2 1108h8.7v8.7h-8.7zM153.6 1109.1h8.7v8.7h-8.7zM153.2 1108.9h8.7v8.7h-8.7zM152.7 1110h8.7v8.7h-8.7zM152.3 1110.7h8.7v8.7h-8.7zM151.8 1111.3h8.7v8.7h-8.7zM151.5 1112h8.7v8.7h-8.7zM151.1 1112.5h8.7v8.7h-8.7zM150.7 1113.2h8.7v8.7h-8.7zM150.4 1113.3h8.7v8.7h-8.7zM150.1 1114.1h8.7v8.7h-8.7zM149.8 1114.9h8.7v8.7h-8.7zM149.5 1115h8.7v8.7h-8.7zM149.2 1115.9h8.7v8.7h-8.7zM149 1116.3h8.7v8.7h-8.7zM148.7 1116.5h8.7v8.7h-8.7zM148.5 1116.9h8.7v8.7h-8.7zM148.3 1117.4h8.7v8.7h-8.7zM148.1 1117.8h8.7v8.7h-8.7zM147.9 1118.5h8.7v8.7h-8.7zM147.7 1118.6h8.7v8.7h-8.7zM147.5 1118.9h8.7v8.7h-8.7zM147.4 1119.2h8.7v8.7h-8.7zM147.2 1119.8h8.7v8.7h-8.7zM147.1 1120.2h8.7v8.7h-8.7zM146.9 1120.3h8.7v8.7h-8.7zM146.8 1120.6h8.7v8.7h-8.7zM146.7 1120.9h8.7v8.7h-8.7zM146.6 1121.2h8.7v8.7h-8.7zM146.4 1121.3h8.7v8.7h-8.7zM146.3 1121.6h8.7v8.7h-8.7zM146.2 1121.8h8.7v8.7h-8.7zM146.1 1122h8.7v8.7h-8.7zM146.1 1122.1h8.7v8.7h-8.7zM146 1122.3h8.7v8.7h-8.7zM145.9 1122.5h8.7v8.7h-8.7zM145.8 1122.8h8.7v8.7h-8.7zM145.7 1122.9h8.7v8.7h-8.7zM145.7 1123h8.7v8.7h-8.7zM145.6 1123.1h8.7v8.7h-8.7zM145.5 1123.2h8.7v8.7h-8.7zM145.5 1123.4h8.7v8.7h-8.7zM145.4 1123.6h8.7v8.7h-8.7zM145.4 1123.7h8.7v8.7h-8.7zM145.3 1123.7h8.7v8.7h-8.7zM145.3 1123.9h8.7v8.7h-8.7zM145.2 1124h8.7v8.7h-8.7zM145.2 1124.1h8.7v8.7h-8.7zM145.2 1124.2h8.7v8.7h-8.7zM145.1 1124.2h8.7v8.7h-8.7zM145.1 1124.3h8.7v8.7h-8.7zM145.1 1124.4h8.7v8.7h-8.7zM145 1124.4h8.7v8.7h-8.7zM145 1124.5h8.7v8.7h-8.7zM145 1124.6h8.7v8.7h-8.7zM144.9 1124.6h8.7v8.7h-8.7zM144.9 1124.7h8.7v8.7h-8.7zM144.9 1124.7h8.7v8.7h-8.7zM144.9 1124.8h8.7v8.7h-8.7zM144.8 1124.8h8.7v8.7h-8.7zM144.8 1124.9h8.7v8.7h-8.7zM144.8 1124.9h8.7v8.7h-8.7z" fill="#000"/>
<path d="M696.3 910.5L667.3 896.5L639.8 956.3L613.7 900.1L589.1 901.9L565.7 909.1L543.6 926.8L522.7 922.8L502.9 940.1L484.1 942.2L466.3 944.8L449.5 950L433.5 959L418.4 974.4L404.1 980.4L390.6 997.5L377.8 998.1L365.6 992.9L354.1 1019L343.2 1012L332.9 1017.4L323.2 1023.1L313.9 1025.3L305.2 1038.1L296.9 1035.9L289 1039.8L281.6 1035.5L274.5 1052.8L267.9 1043.1L261.6 1056.5L255.6 1049.2L249.9 1052.4L244.5 1061.5L239.5 1062.6L234.7 1065.9L230.1 1073.4L225.8 1069.7L221.7 1069.2L217.8 1070.9L214.2 1075.5L210.7 1075.3L207.4 1077.2L204.3 1080.7L201.4 1081.8L198.6 1084.9L196 1084.6L193.5 1088.1L191.1 1087.6L188.8 1089.7L186.7 1091.8L184.7 1092.3L182.8 1094L181 1094.5L179.3 1093.6L177.7 1096.9L176.1 1097L174.7 1097.3L173.3 1097.9L172 1100.6L170.8 1100.7L169.6 1102.3L168.5 1102.7L167.5 1103.8L166.5 1103.6L165.5 1104.5L164.7 1105.1L163.8 1105.4L163 1107.5L162.3 1107.3L161.6 1108.8L160.9 1109.8L160.2 1110.1L159.6 1110.2L159.1 1111.7L158.5 1112.1L158 1112.2L157.5 1112.9L157 1114.2L156.6 1114.5L156.2 1115.9L155.8 1116.2L155.4 1116.9L155.1 1117.4L154.7 1118.1L154.4 1118.8L154.1 1119L153.8 1119.5L153.6 1120.1L153.3 1120.3L153.1 1120.9L152.9 1121.3L152.6 1121.7L152.4 1122.3L152.2 1122.6L152.1 1122.9L151.9 1123.5L151.7 1123.7L151.6 1124L151.4 1124.3L151.3 1124.8L151.2 1125.1L151 1125.2L150.9 1125.5L150.8 1125.6L150.7 1126L150.6 1126.1L150.5 1126.4L150.4 1126.5L150.3 1126.7L150.2 1126.9L150.2 1127L150.1 1127.2L150 1127.4L150 1127.6L149.9 1127.7L149.8 1127.7L149.8 1127.9L149.7 1128L149.7 1128.1L149.6 1128.2L149.6 1128.3L149.5 1128.4L149.5 1128.5L149.5 1128.6L149.4 1128.6L149.4 1128.7L149.4 1128.8L149.3 1128.9L149.3 1128.9L149.3 1129L149.3 1129L149.2 1129.1L149.2 1129.1L149.2 1129.2L149.2 1129.2L149.1 1129.3" fill="none" stroke="#f00" stroke-width="0.85"/>
<path d="M691.2 910.5a5.05 5.05 0 1 0 10.1 0a5.05 5.05 0 1 0 -10.1 0zM662.2 896.5a5.05 5.05 0 1 0 10.1 0a5.05 5.05 0 1 0 -10.1 0zM634.7 956.3a5.05 5.05 0 1 0 10.1 0a5.05 5.05 0 1 0 -10.1 0zM608.7 900.1a5.05 5.05 0 1 0 10.1 0a5.05 5.05 0 1 0 -10.1 0zM584 901.9a5.05 5.05 0 1 0 10.1 0a5.05 5.05 0 1 0 -10.1 0zM560.7 909.1a5.05 5.05 0 1 0 10.1 0a5.05 5.05 0 1 0 -10.1 0zM538.6 926.8a5.05 5.05 0 1 0 10.1 0a5.05 5.05 0 1 0 -10.1 0zM517.6 922.8a5.05 5.05 0 1 0 10.1 0a5.05 5.05 0 1 0 -10.1 0zM497.8 940.1a5.05 5.05 0 1 0 10.1 0a5.05 5.05 0 1 0 -10.1 0zM479 942.2a5.05 5.05 0 1 0 10.1 0a5.05 5.05 0 1 0 -10.1 0zM461.3 944.8a5.05 5.05 0 1 0 10.1 0a5.05 5.05 0 1 0 -10.1 0zM444.4 950a5.05 5.05 0 1 0 10.1 0a5.05 5.05 0 1 0 -10.1 0zM428.5 959a5.05 5.05 0 1 0 10.1 0a5.05 5.05 0 1 0 -10.1 0zM413.4 974.4a5.05 5.05 0 1 0 10.1 0a5.05 5.05 0 1 0 -10.1 0zM399.1 980.4a5.05 5.05 0 1 0 10.1 0a5.05 5.05 0 1 0 -10.1 0zM385.5 997.5a5.05 5.05 0 1 0 10.1 0a5.05 5.05 0 1 0 -10.1 0zM372.7 998.1a5.05 5.05 0 1 0 10.1 0a5.05 5.05 0 1 0 -10.1 0zM360.6 992.9a5.05 5.05 0 1 0 10.1 0a5.05 5.05 0 1 0 -10.1 0zM349.1 1019a5.05 5.05 0 1 0 10.1 0a5.05 5.05 0 1 0 -10.1 0zM338.2 1012a5.05 5.05 0 1 0 10.1 0a5.05 5.05 0 1 0 -10.1 0zM327.9 1017.4a5.05 5.05 0 1 0 10.1 0a5.05 5.05 0 1 0 -10.1 0zM318.1 1023.1a5.05 5.05 0 1 0 10.1 0a5.05 5.05 0 1 0 -10.1 0zM308.9 1025.3a5.05 5.05 0 1 0 10.1 0a5.05 5.05 0 1 0 -10.1 0zM300.1 1038.1a5.05 5.05 0 1 0 10.1 0a5.05 5.05 0 1 0 -10.1 0zM291.8 1035.9a5.05 5.05 0 1 0 10.1 0a5.05 5.05 0 1 0 -10.1 0zM284 1039.8a5.05 5.05 0 1 0 10.1 0a5.05 5.05 0 1 0 -10.1 0zM276.5 1035.5a5.05 5.05 0 1 0 10.1 0a5.05 5.05 0 1 0 -10.1 0zM269.5 1052.8a5.05 5.05 0 1 0 10.1 0a5.05 5.05 0 1 0 -10.1 0zM262.8 1043.1a5.05 5.05 0 1 0 10.1 0a5.05 5.05 0 1 0 -10.1 0zM256.5 1056.5a5.05 5.05 0 1 0 10.1 0a5.05 5.05 0 1 0 -10.1 0zM250.5 1049.2a5.05 5.05 0 1 0 10.1 0a5.05 5.05 0 1 0 -10.1 0zM244.9 1052.4a5.05 5.05 0 1 0 10.1 0a5.05 5.05 0 1 0 -10.1 0zM239.5 1061.5a5.05 5.05 0 1 0 10.1 0a5.05 5.05 0 1 0 -10.1 0zM234.4 1062.6a5.05 5.05 0 1 0 10.1 0a5.05 5.05 0 1 0 -10.1 0zM229.6 1065.9a5.05 5.05 0 1 0 10.1 0a5.05 5.05 0 1 0 -10.1 0zM225.1 1073.4a5.05 5.05 0 1 0 10.1 0a5.05 5.05 0 1 0 -10.1 0zM220.7 1069.7a5.05 5.05 0 1 0 10.1 0a5.05 5.05 0 1 0 -10.1 0zM216.7 1069.2a5.05 5.05 0 1 0 10.1 0a5.05 5.05 0 1 0 -10.1 0zM212.8 1070.9a5.05 5.05 0 1 0 10.1 0a5.05 5.05 0 1 0 -10.1 0zM209.1 1075.5a5.05 5.05 0 1 0 10.1 0a5.05 5.05 0 1 0 -10.1 0zM205.7 1075.3a5.05 5.05 0 1 0 10.1 0a5.05 5.05 0 1 0 -10.1 0zM202.4 1077.2a5.05 5.05 0 1 0 10.1 0a5.05 5.05 0 1 0 -10.1 0zM199.3 1080.7a5.05 5.05 0 1 0 10.1 0a5.05 5.05 0 1 0 -10.1 0zM196.3 1081.8a5.05 5.05 0 1 0 10.1 0a5.05 5.05 0 1 0 -10.1 0zM193.5 1084.9a5.05 5.05 0 1 0 10.1 0a5.05 5.05 0 1 0 -10.1 0zM190.9 1084.6a5.05 5.05 0 1 0 10.1 0a5.05 5.05 0 1 0 -10.1 0zM188.4 1088.1a5.05 5.05 0 1 0 10.1 0a5.05 5.05 0 1 0 -10.1 0zM186 1087.6a5.05 5.05 0 1 0 10.1 0a5.05 5.05 0 1 0 -10.1 0zM183.8 1089.7a5.05 5.05 0 1 0 10.1 0a5.05 5.05 0 1 0 -10.1 0zM181.7 1091.8a5.05 5.05 0 1 0 10.1 0a5.05 5.05 0 1 0 -10.1 0zM179.7 1092.3a5.05 5.05 0 1 0 10.1 0a5.05 5.05 0 1 0 -10.1 0zM177.8 1094a5.05 5.05 0 1 0 10.1 0a5.05 5.05 0 1 0 -10.1 0zM176 1094.5a5.05 5.05 0 1 0 10.1 0a5.05 5.05 0 1 0 -10.1 0zM174.2 1093.6a5.05 5.05 0 1 0 10.1 0a5.05 5.05 0 1 0 -10.1 0zM172.6 1096.9a5.05 5.05 0 1 0 10.1 0a5.05 5.05 0 1 0 -10.1 0zM171.1 1097a5.05 5.05 0 1 0 10.1 0a5.05 5.05 0 1 0 -10.1 0zM169.6 1097.3a5.05 5.05 0 1 0 10.1 0a5.05 5.05 0 1 0 -10.1 0zM168.3 1097.9a5.05 5.05 0 1 0 10.1 0a5.05 5.05 0 1 0 -10.1 0zM167 1100.6a5.05 5.05 0 1 0 10.1 0a5.05 5.05 0 1 0 -10.1 0zM165.7 1100.7a5.05 5.05 0 1 0 10.1 0a5.05 5.05 0 1 0 -10.1 0zM164.6 1102.3a5.05 5.05 0 1 0 10.1 0a5.05 5.05 0 1 0 -10.1 0zM163.5 1102.7a5.05 5.05 0 1 0 10.1 0a5.05 5.05 0 1 0 -10.1 0zM162.4 1103.8a5.05 5.05 0 1 0 10.1 0a5.05 5.05 0 1 0 -10.1 0zM161.4 1103.6a5.05 5.05 0 1 0 10.1 0a5.05 5.05 0 1 0 -10.1 0zM160.5 1104.5a5.05 5.05 0 1 0 10.1 0a5.05 5.05 0 1 0 -10.1 0zM159.6 1105.1a5.05 5.05 0 1 0 10.1 0a5.05 5.05 0 1 0 -10.1 0zM158.8 1105.4a5.05 5.05 0 1 0 10.1 0a5.05 5.05 0 1 0 -10.1 0zM158 1107.5a5.05 5.05 0 1 0 10.1 0a5.05 5.05 0 1 0 -10.1 0zM157.2 1107.3a5.05 5.05 0 1 0 10.1 0a5.05 5.05 0 1 0 -10.1 0zM156.5 1108.8a5.05 5.05 0 1 0 10.1 0a5.05 5.05 0 1 0 -10.1 0zM155.8 1109.8a5.05 5.05 0 1 0 10.1 0a5.05 5.05 0 1 0 -10.1 0zM155.2 1110.1a5.05 5.05 0 1 0 10.1 0a5.05 5.05 0 1 0 -10.1 0zM154.6 1110.2a5.05 5.05 0 1 0 10.1 0a5.05 5.05 0 1 0 -10.1 0zM154 1111.7a5.05 5.05 0 1 0 10.1 0a5.05 5.05 0 1 0 -10.1 0zM153.5 1112.1a5.05 5.05 0 1 0 10.1 0a5.05 5.05 0 1 0 -10.1 0zM152.9 1112.2a5.05 5.05 0 1 0 10.1 0a5.05 5.05 0 1 0 -10.1 0zM152.5 1112.9a5.05 5.05 0 1 0 10.1 0a5.05 5.05 0 1 0 -10.1 0zM152 1114.2a5.05 5.05 0 1 0 10.1 0a5.05 5.05 0 1 0 -10.1 0zM151.6 1114.5a5.05 5.05 0 1 0 10.1 0a5.05 5.05 0 1 0 -10.1 0zM151.1 1115.9a5.05 5.05 0 1 0 10.1 0a5.05 5.05 0 1 0 -10.1 0zM150.8 1116.2a5.05 5.05 0 1 0 10.1 0a5.05 5.05 0 1 0 -10.1 0zM150.4 1116.9a5.05 5.05 0 1 0 10.1 0a5.05 5.05 0 1 0 -10.1 0zM150 1117.4a5.05 5.05 0 1 0 10.1 0a5.05 5.05 0 1 0 -10.1 0zM149.7 1118.1a5.05 5.05 0 1 0 10.1 0a5.05 5.05 0 1 0 -10.1 0zM149.4 1118.8a5.05 5.05 0 1 0 10.1 0a5.05 5.05 0 1 0 -10.1 0zM149.1 1119a5.05 5.05 0 1 0 10.1 0a5.05 5.05 0 1 0 -10.1 0zM148.8 1119.5a5.05 5.05 0 1 0 10.1 0a5.05 5.05 0 1 0 -10.1 0zM148.5 1120.1a5.05 5.05 0 1 0 10.1 0a5.05 5.05 0 1 0 -10.1 0zM148.3 1120.3a5.05 5.05 0 1 0 10.1 0a5.05 5.05 0 1 0 -10.1 0zM148 1120.9a5.05 5.05 0 1 0 10.1 0a5.05 5.05 0 1 0 -10.1 0zM147.8 1121.3a5.05 5.05 0 1 0 10.1 0a5.05 5.05 0 1 0 -10.1 0zM147.6 1121.7a5.05 5.05 0 1 0 10.1 0a5.05 5.05 0 1 0 -10.1 0zM147.4 1122.3a5.05 5.05 0 1 0 10.1 0a5.05 5.05 0 1 0 -10.1 0zM147.2 1122.6a5.05 5.05 0 1 0 10.1 0a5.05 5.05 0 1 0 -10.1 0zM147 1122.9a5.05 5.05 0 1 0 10.1 0a5.05 5.05 0 1 0 -10.1 0zM146.8 1123.5a5.05 5.05 0 1 0 10.1 0a5.05 5.05 0 1 0 -10.1 0zM146.7 1123.7a5.05 5.05 0 1 0 10.1 0a5.05 5.05 0 1 0 -10.1 0zM146.5 1124a5.05 5.05 0 1 0 10.1 0a5.05 5.05 0 1 0 -10.1 0zM146.4 1124.3a5.05 5.05 0 1 0 10.1 0a5.05 5.05 0 1 0 -10.1 0zM146.2 1124.8a5.05 5.05 0 1 0 10.1 0a5.05 5.05 0 1 0 -10.1 0zM146.1 1125.1a5.05 5.05 0 1 0 10.1 0a5.05 5.05 0 1 0 -10.1 0zM146 1125.2a5.05 5.05 0 1 0 10.1 0a5.05 5.05 0 1 0 -10.1 0zM145.9 1125.5a5.05 5.05 0 1 0 10.1 0a5.05 5.05 0 1 0 -10.1 0zM145.7 1125.6a5.05 5.05 0 1 0 10.1 0a5.05 5.05 0 1 0 -10.1 0zM145.6 1126a5.05 5.05 0 1 0 10.1 0a5.05 5.05 0 1 0 -10.1 0zM145.5 1126.1a5.05 5.05 0 1 0 10.1 0a5.05 5.05 0 1 0 -10.1 0zM145.4 1126.4a5.05 5.05 0 1 0 10.1 0a5.05 5.05 0 1 0 -10.1 0zM145.4 1126.5a5.05 5.05 0 1 0 10.1 0a5.05 5.05 0 1 0 -10.1 0zM145.3 1126.7a5.05 5.05 0 1 0 10.1 0a5.05 5.05 0 1 0 -10.1 0zM145.2 1126.9a5.05 5.05 0 1 0 10.1 0a5.05 5.05 0 1 0 -10.1 0zM145.1 1127a5.05 5.05 0 1 0 10.1 0a5.05 5.05 0 1 0 -10.1 0zM145 1127.2a5.05 5.05 0 1 0 10.1 0a5.05 5.05 0 1 0 -10.1 0zM145 1127.4a5.05 5.05 0 1 0 10.1 0a5.05 5.05 0 1 0 -10.1 0zM144.9 1127.6a5.05 5.05 0 1 0 10.1 0a5.05 5.05 0 1 0 -10.1 0zM144.8 1127.7a5.05 5.05 0 1 0 10.1 0a5.05 5.05 0 1 0 -10.1 0zM144.8 1127.7a5.05 5.05 0 1 0 10.1 0a5.05 5.05 0 1 0 -10.1 0zM144.7 1127.9a5.05 5.05 0 1 0 10.1 0a5.05 5.05 0 1 0 -10.1 0zM144.7 1128a5.05 5.05 0 1 0 10.1 0a5.05 5.05 0 1 0 -10.1 0zM144.6 1128.1a5.05 5.05 0 1 0 10.1 0a5.05 5.05 0 1 0 -10.1 0zM144.6 1128.2a5.05 5.05 0 1 0 10.1 0a5.05 5.05 0 1 0 -10.1 0zM144.5 1128.3a5.05 5.05 0 1 0 10.1 0a5.05 5.05 0 1 0 -10.1 0zM144.5 1128.4a5.05 5.05 0 1 0 10.1 0a5.05 5.05 0 1 0 -10.1 0zM144.5 1128.5a5.05 5.05 0 1 0 10.1 0a5.05 5.05 0 1 0 -10.1 0zM144.4 1128.6a5.05 5.05 0 1 0 10.1 0a5.05 5.05 0 1 0 -10.1 0zM144.4 1128.6a5.05 5.05 0 1 0 10.1 0a5.05 5.05 0 1 0 -10.1 0zM144.4 1128.7a5.05 5.05 0 1 0 10.1 0a5.05 5.05 0 1 0 -10.1 0zM144.3 1128.8a5.05 5.05 0 1 0 10.1 0a5.05 5.05 0 1 0 -10.1 0zM144.3 1128.9a5.05 5.05 0 1 0 10.1 0a5.05 5.05 0 1 0 -10.1 0zM144.3 1128.9a5.05 5.05 0 1 0 10.1 0a5.05 5.05 0 1 0 -10.1 0zM144.2 1129a5.05 5.05 0 1 0 10.1 0a5.05 5.05 0 1 0 -10.1 0zM144.2 1129a5.05 5.05 0 1 0 10.1 0a5.05 5.05 0 1 0 -10.1 0zM144.2 1129.1a5.05 5.05 0 1 0 10.1 0a5.05 5.05 0 1 0 -10.1 0zM144.2 1129.1a5.05 5.05 0 1 0 10.1 0a5.05 5.05 0 1 0 -10.1 0zM144.1 1129.2a5.05 5.05 0 1 0 10.1 0a5.05 5.05 0 1 0 -10.1 0zM144.1 1129.2a5.05 5.05 0 1 0 10.1 0a5.05 5.05 0 1 0 -10.1 0zM144.1 1129.3a5.05 5.05 0 1 0 10.1 0a5.05 5.05 0 1 0 -10.1 0z" fill="#f00"/>
<path d="M696.3 788.8L667.3 776L639.8 843.4L613.7 792.1L589.1 836.7L565.7 828.1L543.6 835.4L522.7 860.3L502.9 879.6L484.1 866.5L466.3 879.8L449.5 897.3L433.5 895.9L418.4 888.8L404.1 931.3L390.6 941.7L377.8 948.4L365.6 943.9L354.1 973.9L343.2 982.2L332.9 989.4L323.2 984.5L313.9 986.7L305.2 1007.3L296.9 1007.8L289 1005.6L281.6 1022.9L274.5 1025.7L267.9 1025.7L261.6 1034.4L255.6 1033.8L249.9 1036.6L244.5 1039.2L239.5 1048.9L234.7 1054.4L230.1 1055.4L225.8 1054.9L221.7 1054.6L217.8 1054L214.2 1059.9L210.7 1062.2L207.4 1065.8L204.3 1066.5L201.4 1069.5L198.6 1073.4L196 1074.7L193.5 1078.3L191.1 1078.3L188.8 1080.2L186.7 1085L184.7 1084.9L182.8 1086.7L181 1089.1L179.3 1088.4L177.7 1088.1L176.1 1093.1L174.7 1093.2L173.3 1094.6L172 1095.4L170.8 1098L169.6 1096.2L168.5 1099.2L167.5 1099L166.5 1101L165.5 1102.4L164.7 1102.3L163.8 1102.7L163 1104.9L162.3 1107.2L161.6 1108.3L160.9 1109.4L160.2 1111.2L159.6 1111.4L159.1 1112.5L158.5 1113.9L158 1115.8L157.5 1115.6L157 1116.4L156.6 1117.2L156.2 1117.9L155.8 1119.1L155.4 1120.4L155.1 1121.6L154.7 1121.7L154.4 1122.5L154.1 1123.1L153.8 1123.8L153.6 1124.9L153.3 1125.3L153.1 1125.6L152.9 1126L152.6 1127.1L152.4 1127.5L152.2 1128L152.1 1128L151.9 1128.7L151.7 1129.3L151.6 1129.5L151.4 1130L151.3 1129.9L151.2 1130.6L151 1130.5L150.9 1130.9L150.8 1131L150.7 1131.6L150.6 1131.8L150.5 1132.1L150.4 1132.3L150.3 1132.5L150.2 1132.6L150.2 1132.9L150.1 1133L150 1133L150 1133.4L149.9 1133.4L149.8 1133.5L149.8 1133.6L149.7 1133.8L149.7 1133.8L149.6 1134.1L149.6 1134.2L149.5 1134.2L149.5 1134.3L149.5 1134.4L149.4 1134.4L149.4 1134.6L149.4 1134.7L149.3 1134.7L149.3 1134.8L149.3 1134.9L149.3 1134.9L149.2 1135L149.2 1135.1L149.2 1135.1L149.2 1135.2L149.1 1135.2" fill="none" stroke="#00f" stroke-width="0.85"/>
<path d="M696.3 783.4l6.15 10.7h-12.3zM667.3 770.6l6.15 10.7h-12.3zM639.8 838l6.15 10.7h-12.3zM613.7 786.8l6.15 10.7h-12.3zM589.1 831.4l6.15 10.7h-12.3zM565.7 822.8l6.15 10.7h-12.3zM543.6 830l6.15 10.7h-12.3zM522.7 854.9l6.15 10.7h-12.3zM502.9 874.2l6.15 10.7h-12.3zM484.1 861.1l6.15 10.7h-12.3zM466.3 874.4l6.15 10.7h-12.3zM449.5 891.9l6.15 10.7h-12.3zM433.5 890.5l6.15 10.7h-12.3zM418.4 883.4l6.15 10.7h-12.3zM404.1 925.9l6.15 10.7h-12.3zM390.6 936.4l6.15 10.7h-12.3zM377.8 943l6.15 10.7h-12.3zM365.6 938.5l6.15 10.7h-12.3zM354.1 968.5l6.15 10.7h-12.3zM343.2 976.9l6.15 10.7h-12.3zM332.9 984l6.15 10.7h-12.3zM323.2 979.1l6.15 10.7h-12.3zM313.9 981.4l6.15 10.7h-12.3zM305.2 1001.9l6.15 10.7h-12.3zM296.9 1002.4l6.15 10.7h-12.3zM289 1000.2l6.15 10.7h-12.3zM281.6 1017.5l6.15 10.7h-12.3zM274.5 1020.4l6.15 10.7h-12.3zM267.9 1020.4l6.15 10.7h-12.3zM261.6 1029.1l6.15 10.7h-12.3zM255.6 1028.5l6.15 10.7h-12.3zM249.9 1031.2l6.15 10.7h-12.3zM244.5 1033.9l6.15 10.7h-12.3zM239.5 1043.6l6.15 10.7h-12.3zM234.7 1049.1l6.15 10.7h-12.3zM230.1 1050.1l6.15 10.7h-12.3zM225.8 1049.6l6.15 10.7h-12.3zM221.7 1049.3l6.15 10.7h-12.3zM217.8 1048.6l6.15 10.7h-12.3zM214.2 1054.6l6.15 10.7h-12.3zM210.7 1056.9l6.15 10.7h-12.3zM207.4 1060.4l6.15 10.7h-12.3zM204.3 1061.1l6.15 10.7h-12.3zM201.4 1064.1l6.15 10.7h-12.3zM198.6 1068.1l6.15 10.7h-12.3zM196 1069.4l6.15 10.7h-12.3zM193.5 1072.9l6.15 10.7h-12.3zM191.1 1072.9l6.15 10.7h-12.3zM188.8 1074.9l6.15 10.7h-12.3zM186.7 1079.6l6.15 10.7h-12.3zM184.7 1079.5l6.15 10.7h-12.3zM182.8 1081.3l6.15 10.7h-12.3zM181 1083.8l6.15 10.7h-12.3zM179.3 1083.1l6.15 10.7h-12.3zM177.7 1082.8l6.15 10.7h-12.3zM176.1 1087.7l6.15 10.7h-12.3zM174.7 1087.9l6.15 10.7h-12.3zM173.3 1089.3l6.15 10.7h-12.3zM172 1090.1l6.15 10.7h-12.3zM170.8 1092.6l6.15 10.7h-12.3zM169.6 1090.9l6.15 10.7h-12.3zM168.5 1093.9l6.15 10.7h-12.3zM167.5 1093.6l6.15 10.7h-12.3zM166.5 1095.6l6.15 10.7h-12.3zM165.5 1097.1l6.15 10.7h-12.3zM164.7 1097l6.15 10.7h-12.3zM163.8 1097.3l6.15 10.7h-12.3zM163 1099.5l6.15 10.7h-12.3zM162.3 1101.8l6.15 10.7h-12.3zM161.6 1103l6.15 10.7h-12.3zM160.9 1104l6.15 10.7h-12.3zM160.2 1105.9l6.15 10.7h-12.3zM159.6 1106.1l6.15 10.7h-12.3zM159.1 1107.2l6.15 10.7h-12.3zM158.5 1108.5l6.15 10.7h-12.3zM158 1110.5l6.15 10.7h-12.3zM157.5 1110.2l6.15 10.7h-12.3zM157 1111l6.15 10.7h-12.3zM156.6 1111.8l6.15 10.7h-12.3zM156.2 1112.6l6.15 10.7h-12.3zM155.8 1113.8l6.15 10.7h-12.3zM155.4 1115.1l6.15 10.7h-12.3zM155.1 1116.2l6.15 10.7h-12.3zM154.7 1116.4l6.15 10.7h-12.3zM154.4 1117.2l6.15 10.7h-12.3zM154.1 1117.8l6.15 10.7h-12.3zM153.8 1118.5l6.15 10.7h-12.3zM153.6 1119.6l6.15 10.7h-12.3zM153.3 1119.9l6.15 10.7h-12.3zM153.1 1120.2l6.15 10.7h-12.3zM152.9 1120.6l6.15 10.7h-12.3zM152.6 1121.7l6.15 10.7h-12.3zM152.4 1122.1l6.15 10.7h-12.3zM152.2 1122.7l6.15 10.7h-12.3zM152.1 1122.7l6.15 10.7h-12.3zM151.9 1123.3l6.15 10.7h-12.3zM151.7 1123.9l6.15 10.7h-12.3zM151.6 1124.1l6.15 10.7h-12.3zM151.4 1124.6l6.15 10.7h-12.3zM151.3 1124.6l6.15 10.7h-12.3zM151.2 1125.3l6.15 10.7h-12.3zM151 1125.1l6.15 10.7h-12.3zM150.9 1125.6l6.15 10.7h-12.3zM150.8 1125.7l6.15 10.7h-12.3zM150.7 1126.3l6.15 10.7h-12.3zM150.6 1126.4l6.15 10.7h-12.3zM150.5 1126.8l6.15 10.7h-12.3zM150.4 1126.9l6.15 10.7h-12.3zM150.3 1127.2l6.15 10.7h-12.3zM150.2 1127.2l6.15 10.7h-12.3zM150.2 1127.5l6.15 10.7h-12.3zM150.1 1127.6l6.15 10.7h-12.3zM150 1127.7l6.15 10.7h-12.3zM150 1128l6.15 10.7h-12.3zM149.9 1128l6.15 10.7h-12.3zM149.8 1128.1l6.15 10.7h-12.3zM149.8 1128.2l6.15 10.7h-12.3zM149.7 1128.4l6.15 10.7h-12.3zM149.7 1128.5l6.15 10.7h-12.3zM149.6 1128.7l6.15 10.7h-12.3zM149.6 1128.8l6.15 10.7h-12.3zM149.5 1128.8l6.15 10.7h-12.3zM149.5 1128.9l6.15 10.7h-12.3zM149.5 1129.1l6.15 10.7h-12.3zM149.4 1129.1l6.15 10.7h-12.3zM149.4 1129.2l6.15 10.7h-12.3zM149.4 1129.3l6.15 10.7h-12.3zM149.3 1129.3l6.15 10.7h-12.3zM149.3 1129.4l6.15 10.7h-12.3zM149.3 1129.5l6.15 10.7h-12.3zM149.3 1129.6l6.15 10.7h-12.3zM149.2 1129.6l6.15 10.7h-12.3zM149.2 1129.7l6.15 10.7h-12.3zM149.2 1129.7l6.15 10.7h-12.3zM149.2 1129.8l6.15 10.7h-12.3zM149.1 1129.8l6.15 10.7h-12.3z" fill="#00f"/>
<path d="M696.3 750.3L667.3 743.2L639.8 835.8L613.7 816.3L589.1 791L565.7 787.6L543.6 830.2L522.7 820L502.9 817.6L484.1 871L466.3 825L449.5 885.8L433.5 885.9L418.4 897.3L404.1 908.5L390.6 894.2L377.8 926.3L365.6 933.5L354.1 933.5L343.2 931.8L332.9 940.6L323.2 949.1L313.9 953.1L305.2 976.3L296.9 985.6L289 980.2L281.6 990L274.5 987.2L267.9 1007.8L261.6 1017.5L255.6 999.7L249.9 1014.3L244.5 1021.4L239.5 1029L234.7 1033.8L230.1 1037L225.8 1035.2L221.7 1040.9L217.8 1041.7L214.2 1049.9L210.7 1048.1L207.4 1053.9L204.3 1053.4L201.4 1060.6L198.6 1060L196 1066.2L193.5 1068.5L191.1 1070.7L188.8 1070.6L186.7 1074.9L184.7 1077.3L182.8 1073.6L181 1077.4L179.3 1081.3L177.7 1081.2L176.1 1080.6L174.7 1080.9L173.3 1086L172 1082.1L170.8 1086.8L169.6 1088.2L168.5 1085.8L167.5 1087.6L166.5 1088.5L165.5 1090.4L164.7 1090.5L163.8 1093.2L163 1094L162.3 1092.7L161.6 1095L160.9 1093L160.2 1093.6L159.6 1095.6L159.1 1096.3L158.5 1096.7L158 1097.4L157.5 1097.4L157 1096.5L156.6 1097.8L156.2 1098.3L155.8 1097.2L155.4 1098.1L155.1 1097.9L154.7 1098L154.4 1098.5L154.1 1098.7L153.8 1099.1L153.6 1098.1L153.3 1098.5L153.1 1099L152.9 1098.8L152.6 1098.5L152.4 1098.3L152.2 1098.6L152.1 1113.2L151.9 1107.5L151.7 1107.8L151.6 1117.6L151.4 1102.3L151.3 1108.3L151.2 1104L151 1099.2L150.9 1105.2L150.8 1115.9L150.7 1121.2L150.6 1117L150.5 1111.4L150.4 1107L150.3 1104.7L150.2 1105.5L150.2 1116.7L150.1 1097.8L150 1110.4L150 1107.4L149.9 1119.2L149.8 1106.4L149.8 1104.9L149.7 1106.8L149.7 1108.3L149.6 1116.2L149.6 1110L149.5 1102.3L149.5 1101.2L149.5 1117.2L149.4 1119.9L149.4 1114.1L149.4 1119.2L149.3 1099.4L149.3 1100.3L149.3 1098.7L149.3 1109.1L149.2 1103.1L149.2 1108L149.2 1106.9L149.2 1117.7L149.1 1105.2" fill="none" stroke="#f0f" stroke-width="0.85"/>
<path d="M696.3 755.6l6.15 -10.7h-12.3zM667.3 748.6l6.15 -10.7h-12.3zM639.8 841.1l6.15 -10.7h-12.3zM613.7 821.6l6.15 -10.7h-12.3zM589.1 796.4l6.15 -10.7h-12.3zM565.7 793l6.15 -10.7h-12.3zM543.6 835.6l6.15 -10.7h-12.3zM522.7 825.4l6.15 -10.7h-12.3zM502.9 823l6.15 -10.7h-12.3zM484.1 876.4l6.15 -10.7h-12.3zM466.3 830.4l6.15 -10.7h-12.3zM449.5 891.1l6.15 -10.7h-12.3zM433.5 891.2l6.15 -10.7h-12.3zM418.4 902.6l6.15 -10.7h-12.3zM404.1 913.9l6.15 -10.7h-12.3zM390.6 899.6l6.15 -10.7h-12.3zM377.8 931.6l6.15 -10.7h-12.3zM365.6 938.9l6.15 -10.7h-12.3zM354.1 938.9l6.15 -10.7h-12.3zM343.2 937.1l6.15 -10.7h-12.3zM332.9 946l6.15 -10.7h-12.3zM323.2 954.5l6.15 -10.7h-12.3zM313.9 958.5l6.15 -10.7h-12.3zM305.2 981.6l6.15 -10.7h-12.3zM296.9 991l6.15 -10.7h-12.3zM289 985.6l6.15 -10.7h-12.3zM281.6 995.4l6.15 -10.7h-12.3zM274.5 992.6l6.15 -10.7h-12.3zM267.9 1013.1l6.15 -10.7h-12.3zM261.6 1022.9l6.15 -10.7h-12.3zM255.6 1005.1l6.15 -10.7h-12.3zM249.9 1019.6l6.15 -10.7h-12.3zM244.5 1026.8l6.15 -10.7h-12.3zM239.5 1034.3l6.15 -10.7h-12.3zM234.7 1039.1l6.15 -10.7h-12.3zM230.1 1042.3l6.15 -10.7h-12.3zM225.8 1040.6l6.15 -10.7h-12.3zM221.7 1046.3l6.15 -10.7h-12.3zM217.8 1047l6.15 -10.7h-12.3zM214.2 1055.3l6.15 -10.7h-12.3zM210.7 1053.5l6.15 -10.7h-12.3zM207.4 1059.3l6.15 -10.7h-12.3zM204.3 1058.8l6.15 -10.7h-12.3zM201.4 1066l6.15 -10.7h-12.3zM198.6 1065.4l6.15 -10.7h-12.3zM196 1071.6l6.15 -10.7h-12.3zM193.5 1073.9l6.15 -10.7h-12.3zM191.1 1076.1l6.15 -10.7h-12.3zM188.8 1076l6.15 -10.7h-12.3zM186.7 1080.3l6.15 -10.7h-12.3zM184.7 1082.7l6.15 -10.7h-12.3zM182.8 1078.9l6.15 -10.7h-12.3zM181 1082.7l6.15 -10.7h-12.3zM179.3 1086.6l6.15 -10.7h-12.3zM177.7 1086.5l6.15 -10.7h-12.3zM176.1 1085.9l6.15 -10.7h-12.3zM174.7 1086.3l6.15 -10.7h-12.3zM173.3 1091.3l6.15 -10.7h-12.3zM172 1087.4l6.15 -10.7h-12.3zM170.8 1092.2l6.15 -10.7h-12.3zM169.6 1093.5l6.15 -10.7h-12.3zM168.5 1091.2l6.15 -10.7h-12.3zM167.5 1093l6.15 -10.7h-12.3zM166.5 1093.9l6.15 -10.7h-12.3zM165.5 1095.7l6.15 -10.7h-12.3zM164.7 1095.9l6.15 -10.7h-12.3zM163.8 1098.6l6.15 -10.7h-12.3zM163 1099.4l6.15 -10.7h-12.3zM162.3 1098l6.15 -10.7h-12.3zM161.6 1100.4l6.15 -10.7h-12.3zM160.9 1098.4l6.15 -10.7h-12.3zM160.2 1099l6.15 -10.7h-12.3zM159.6 1100.9l6.15 -10.7h-12.3zM159.1 1101.7l6.15 -10.7h-12.3zM158.5 1102.1l6.15 -10.7h-12.3zM158 1102.8l6.15 -10.7h-12.3zM157.5 1102.8l6.15 -10.7h-12.3zM157 1101.9l6.15 -10.7h-12.3zM156.6 1103.1l6.15 -10.7h-12.3zM156.2 1103.7l6.15 -10.7h-12.3zM155.8 1102.5l6.15 -10.7h-12.3zM155.4 1103.5l6.15 -10.7h-12.3zM155.1 1103.2l6.15 -10.7h-12.3zM154.7 1103.3l6.15 -10.7h-12.3zM154.4 1103.8l6.15 -10.7h-12.3zM154.1 1104.1l6.15 -10.7h-12.3zM153.8 1104.4l6.15 -10.7h-12.3zM153.6 1103.4l6.15 -10.7h-12.3zM153.3 1103.9l6.15 -10.7h-12.3zM153.1 1104.4l6.15 -10.7h-12.3zM152.9 1104.1l6.15 -10.7h-12.3zM152.6 1103.9l6.15 -10.7h-12.3zM152.4 1103.6l6.15 -10.7h-12.3zM152.2 1104l6.15 -10.7h-12.3zM152.1 1118.6l6.15 -10.7h-12.3zM151.9 1112.9l6.15 -10.7h-12.3zM151.7 1113.2l6.15 -10.7h-12.3zM151.6 1122.9l6.15 -10.7h-12.3zM151.4 1107.7l6.15 -10.7h-12.3zM151.3 1113.6l6.15 -10.7h-12.3zM151.2 1109.3l6.15 -10.7h-12.3zM151 1104.5l6.15 -10.7h-12.3zM150.9 1110.6l6.15 -10.7h-12.3zM150.8 1121.2l6.15 -10.7h-12.3zM150.7 1126.6l6.15 -10.7h-12.3zM150.6 1122.4l6.15 -10.7h-12.3zM150.5 1116.7l6.15 -10.7h-12.3zM150.4 1112.3l6.15 -10.7h-12.3zM150.3 1110l6.15 -10.7h-12.3zM150.2 1110.8l6.15 -10.7h-12.3zM150.2 1122l6.15 -10.7h-12.3zM150.1 1103.1l6.15 -10.7h-12.3zM150 1115.7l6.15 -10.7h-12.3zM150 1112.8l6.15 -10.7h-12.3zM149.9 1124.5l6.15 -10.7h-12.3zM149.8 1111.8l6.15 -10.7h-12.3zM149.8 1110.3l6.15 -10.7h-12.3zM149.7 1112.2l6.15 -10.7h-12.3zM149.7 1113.7l6.15 -10.7h-12.3zM149.6 1121.6l6.15 -10.7h-12.3zM149.6 1115.4l6.15 -10.7h-12.3zM149.5 1107.6l6.15 -10.7h-12.3zM149.5 1106.6l6.15 -10.7h-12.3zM149.5 1122.5l6.15 -10.7h-12.3zM149.4 1125.2l6.15 -10.7h-12.3zM149.4 1119.5l6.15 -10.7h-12.3zM149.4 1124.6l6.15 -10.7h-12.3zM149.3 1104.8l6.15 -10.7h-12.3zM149.3 1105.6l6.15 -10.7h-12.3zM149.3 1104.1l6.15 -10.7h-12.3zM149.3 1114.4l6.15 -10.7h-12.3zM149.2 1108.4l6.15 -10.7h-12.3zM149.2 1113.3l6.15 -10.7h-12.3zM149.2 1112.3l6.15 -10.7h-12.3zM149.2 1123l6.15 -10.7h-12.3zM149.1 1110.5l6.15 -10.7h-12.3z" fill="#f0f"/>
</g>
<rect x="156.8" y="710.4" width="182.9" height="123.7" fill="#fff" stroke="#000" stroke-width="0.9"/>
<path d="M169.6 733.1H215.9" stroke="#000" stroke-width="1" stroke-opacity="0.62" fill="none"/>
<path d="M188.5 728.8h8.7v8.7h-8.7z" fill="#000"/>
<text x="222.2" y="740.1" class="lg" xml:space="preserve">nSiR B</text>
<path d="M169.6 762.9H215.9" stroke="#f00" stroke-width="1" stroke-opacity="0.62" fill="none"/>
<path d="M187.8 762.9a5.05 5.05 0 1 0 10.1 0a5.05 5.05 0 1 0 -10.1 0z" fill="#f00"/>
<text x="222.2" y="769.9" class="lg" xml:space="preserve">SMC 15 B</text>
<path d="M169.6 792.7H215.9" stroke="#00f" stroke-width="1" stroke-opacity="0.62" fill="none"/>
<path d="M192.8 785.6l6.15 10.7h-12.3z" fill="#00f"/>
<text x="222.2" y="799.7" class="lg" xml:space="preserve">SNC  2.5 B</text>
<path d="M169.6 822.5H215.9" stroke="#f0f" stroke-width="1" stroke-opacity="0.62" fill="none"/>
<path d="M192.8 829.6l6.15 -10.7h-12.3z" fill="#f0f"/>
<text x="222.2" y="829.5" class="lg" xml:space="preserve">SNC  5 B</text>
</g>
</svg>
</body></html>
